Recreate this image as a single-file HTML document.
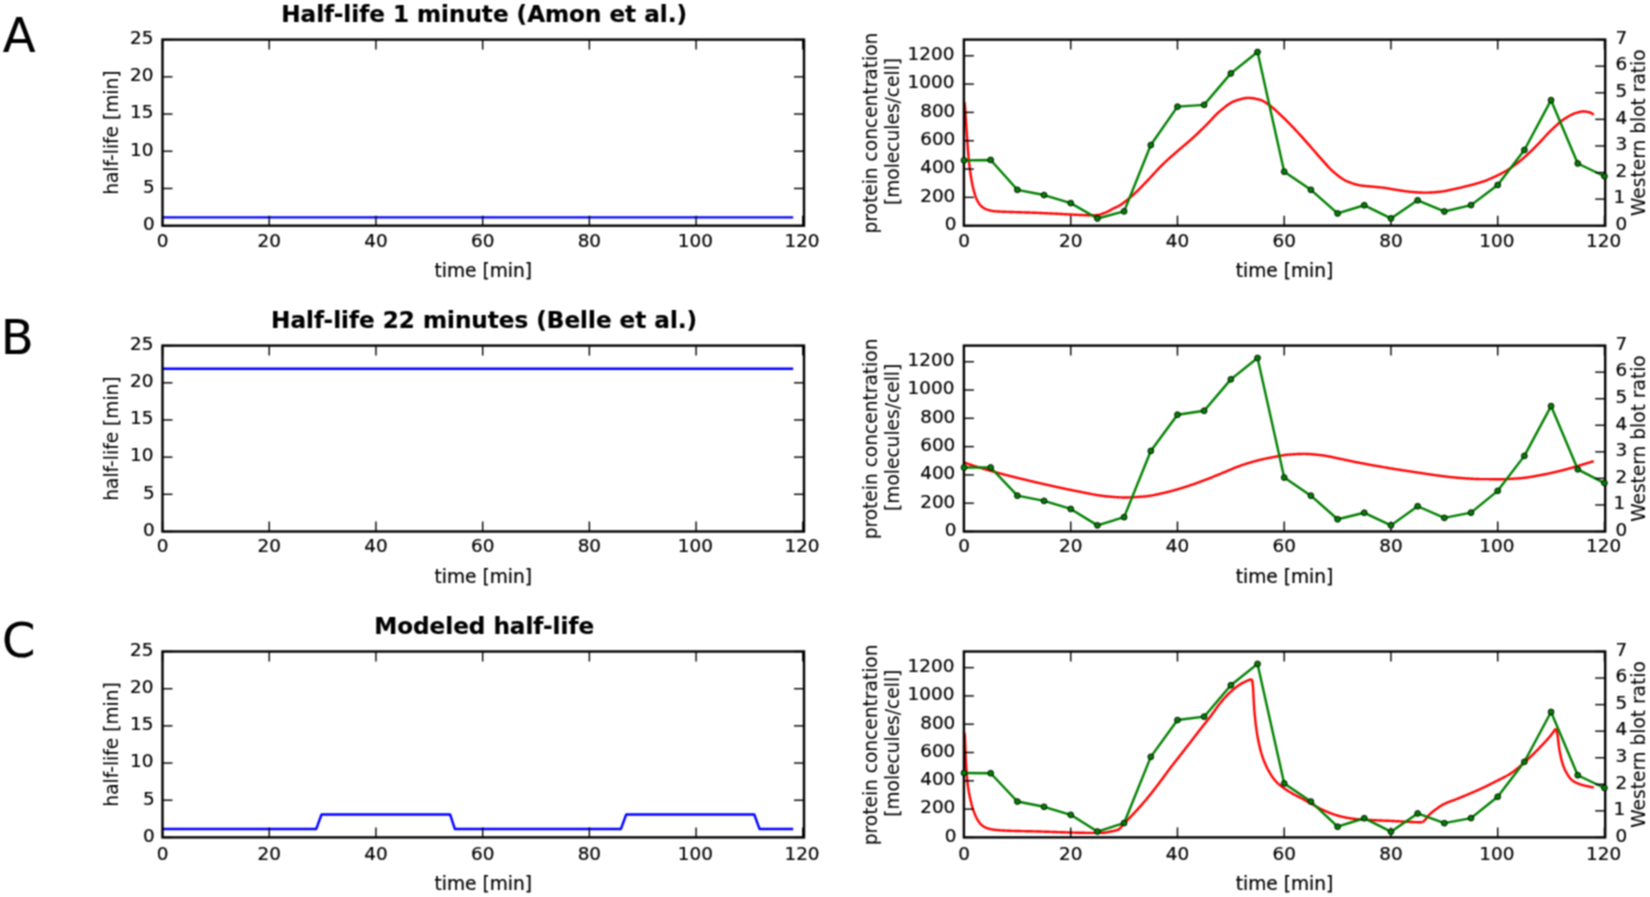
<!DOCTYPE html><html><head><meta charset="utf-8"><title>Half-life figure</title><style>html,body{margin:0;padding:0;background:#fff;}svg{display:block;} text{font-family:'DejaVu Sans', 'Liberation Sans', sans-serif;fill:#000;stroke:#000;stroke-width:0.20;} .tk{stroke:#000;stroke-width:1.40;}</style></head><body>
<svg width="1650" height="897" viewBox="0 0 1650 897">
<defs><filter id="soft" x="0" y="0" width="1650" height="897" filterUnits="userSpaceOnUse" color-interpolation-filters="sRGB"><feConvolveMatrix order="3" kernelMatrix="1 2 1 2 4 2 1 2 1" divisor="16" edgeMode="duplicate"/></filter></defs>
<rect width="100%" height="100%" fill="#fff"/>
<g filter="url(#soft)">
<text x="2.80" y="51.80" font-size="48.00" text-anchor="start" font-weight="normal">A</text>
<text x="484.15" y="22.30" font-size="23.10" text-anchor="middle" font-weight="bold">Half-life 1 minute (Amon et al.)</text>
<g>
<polyline points="162.50,217.36 793.22,217.36" fill="none" stroke="#0000ff" stroke-width="2.40" stroke-linejoin="round" stroke-linecap="butt" />
<line x1="162.50" y1="225.70" x2="162.50" y2="215.70" class="tk"/>
<line x1="162.50" y1="39.60" x2="162.50" y2="49.60" class="tk"/>
<text x="162.50" y="247.00" font-size="18.40" text-anchor="middle" font-weight="normal">0</text>
<line x1="269.22" y1="225.70" x2="269.22" y2="215.70" class="tk"/>
<line x1="269.22" y1="39.60" x2="269.22" y2="49.60" class="tk"/>
<text x="269.22" y="247.00" font-size="18.40" text-anchor="middle" font-weight="normal">20</text>
<line x1="375.94" y1="225.70" x2="375.94" y2="215.70" class="tk"/>
<line x1="375.94" y1="39.60" x2="375.94" y2="49.60" class="tk"/>
<text x="375.94" y="247.00" font-size="18.40" text-anchor="middle" font-weight="normal">40</text>
<line x1="482.66" y1="225.70" x2="482.66" y2="215.70" class="tk"/>
<line x1="482.66" y1="39.60" x2="482.66" y2="49.60" class="tk"/>
<text x="482.66" y="247.00" font-size="18.40" text-anchor="middle" font-weight="normal">60</text>
<line x1="589.38" y1="225.70" x2="589.38" y2="215.70" class="tk"/>
<line x1="589.38" y1="39.60" x2="589.38" y2="49.60" class="tk"/>
<text x="589.38" y="247.00" font-size="18.40" text-anchor="middle" font-weight="normal">80</text>
<line x1="696.10" y1="225.70" x2="696.10" y2="215.70" class="tk"/>
<line x1="696.10" y1="39.60" x2="696.10" y2="49.60" class="tk"/>
<text x="695.30" y="247.00" font-size="18.40" text-anchor="middle" font-weight="normal">100</text>
<line x1="802.82" y1="225.70" x2="802.82" y2="215.70" class="tk"/>
<line x1="802.82" y1="39.60" x2="802.82" y2="49.60" class="tk"/>
<text x="802.02" y="247.00" font-size="18.40" text-anchor="middle" font-weight="normal">120</text>
<line x1="162.50" y1="225.70" x2="172.50" y2="225.70" class="tk"/>
<line x1="804.00" y1="225.70" x2="794.00" y2="225.70" class="tk"/>
<text x="154.70" y="230.00" font-size="18.40" text-anchor="end" font-weight="normal">0</text>
<line x1="162.50" y1="188.48" x2="172.50" y2="188.48" class="tk"/>
<line x1="804.00" y1="188.48" x2="794.00" y2="188.48" class="tk"/>
<text x="154.70" y="192.78" font-size="18.40" text-anchor="end" font-weight="normal">5</text>
<line x1="162.50" y1="151.26" x2="172.50" y2="151.26" class="tk"/>
<line x1="804.00" y1="151.26" x2="794.00" y2="151.26" class="tk"/>
<text x="153.50" y="155.56" font-size="18.40" text-anchor="end" font-weight="normal">10</text>
<line x1="162.50" y1="114.04" x2="172.50" y2="114.04" class="tk"/>
<line x1="804.00" y1="114.04" x2="794.00" y2="114.04" class="tk"/>
<text x="153.50" y="118.34" font-size="18.40" text-anchor="end" font-weight="normal">15</text>
<line x1="162.50" y1="76.82" x2="172.50" y2="76.82" class="tk"/>
<line x1="804.00" y1="76.82" x2="794.00" y2="76.82" class="tk"/>
<text x="153.50" y="81.12" font-size="18.40" text-anchor="end" font-weight="normal">20</text>
<line x1="162.50" y1="39.60" x2="172.50" y2="39.60" class="tk"/>
<line x1="804.00" y1="39.60" x2="794.00" y2="39.60" class="tk"/>
<text x="153.50" y="43.90" font-size="18.40" text-anchor="end" font-weight="normal">25</text>
<rect x="162.50" y="39.60" width="641.50" height="186.10" fill="none" stroke="#000" stroke-width="2.40"/>
</g>
<text x="483.25" y="276.90" font-size="18.60" text-anchor="middle" font-weight="normal">time [min]</text>
<text x="118.10" y="132.65" font-size="18.60" text-anchor="middle" font-weight="normal" transform="rotate(-90 118.10 132.65)" style="stroke-width:0.05px">half-life [min]</text>
<defs><clipPath id="c0"><rect x="963.90" y="39.60" width="641.30" height="186.10"/></clipPath></defs>
<g clip-path="url(#c0)">
<polyline points="964.00,101.57 964.67,103.57 965.33,111.18 966.00,121.84 966.67,131.84 967.33,141.20 968.00,150.64 968.66,158.80 969.33,165.00 970.00,170.24 970.66,174.81 971.33,178.95 972.00,182.73 972.66,186.06 973.33,188.85 974.00,191.39 974.66,193.72 975.33,195.82 976.00,197.66 976.66,199.21 977.33,200.56 977.99,201.79 978.66,202.92 979.33,203.92 979.99,204.81 980.66,205.56 981.33,206.17 981.99,206.73 982.66,207.24 983.33,207.71 983.99,208.14 984.66,208.52 985.33,208.86 985.99,209.16 986.66,209.42 987.32,209.63 987.99,209.84 988.66,210.03 989.32,210.22 989.99,210.39 990.66,210.56 991.32,210.71 991.99,210.84 992.66,210.97 993.32,211.08 993.99,211.17 994.66,211.25 995.32,211.32 995.99,211.37 996.65,211.41 997.32,211.45 997.99,211.49 998.65,211.53 999.32,211.57 999.99,211.60 1000.65,211.63 1001.32,211.66 1001.99,211.69 1002.65,211.71 1003.32,211.74 1003.99,211.76 1004.65,211.78 1005.32,211.81 1005.98,211.83 1006.65,211.85 1007.32,211.87 1007.98,211.89 1008.65,211.91 1009.32,211.93 1009.98,211.95 1010.65,211.97 1011.32,211.99 1011.98,212.01 1012.65,212.03 1013.32,212.06 1013.98,212.08 1014.65,212.10 1015.31,212.13 1015.98,212.15 1016.65,212.17 1017.31,212.19 1017.98,212.21 1018.65,212.24 1019.31,212.26 1019.98,212.28 1020.65,212.30 1021.31,212.32 1021.98,212.34 1022.64,212.36 1023.31,212.38 1023.98,212.40 1024.64,212.42 1025.31,212.44 1025.98,212.46 1026.64,212.48 1027.31,212.50 1027.98,212.52 1028.64,212.54 1029.31,212.56 1029.98,212.59 1030.64,212.61 1031.31,212.63 1031.97,212.65 1032.64,212.68 1033.31,212.70 1033.97,212.73 1034.64,212.75 1035.31,212.78 1035.97,212.80 1036.64,212.83 1037.31,212.86 1037.97,212.88 1038.64,212.91 1039.31,212.94 1039.97,212.97 1040.64,213.00 1041.30,213.03 1041.97,213.06 1042.64,213.09 1043.30,213.12 1043.97,213.15 1044.64,213.18 1045.30,213.21 1045.97,213.24 1046.64,213.27 1047.30,213.30 1047.97,213.34 1048.64,213.37 1049.30,213.40 1049.97,213.43 1050.63,213.46 1051.30,213.50 1051.97,213.53 1052.63,213.56 1053.30,213.59 1053.97,213.63 1054.63,213.66 1055.30,213.69 1055.97,213.72 1056.63,213.76 1057.30,213.79 1057.97,213.82 1058.63,213.86 1059.30,213.89 1059.96,213.93 1060.63,213.96 1061.30,214.00 1061.96,214.03 1062.63,214.07 1063.30,214.11 1063.96,214.14 1064.63,214.18 1065.30,214.22 1065.96,214.26 1066.63,214.29 1067.29,214.33 1067.96,214.37 1068.63,214.40 1069.29,214.44 1069.96,214.48 1070.63,214.51 1071.29,214.55 1071.96,214.58 1072.63,214.62 1073.29,214.65 1073.96,214.68 1074.63,214.72 1075.29,214.75 1075.96,214.78 1076.62,214.81 1077.29,214.84 1077.96,214.87 1078.62,214.90 1079.29,214.93 1079.96,214.96 1080.62,214.99 1081.29,215.02 1081.96,215.05 1082.62,215.08 1083.29,215.12 1083.96,215.15 1084.62,215.17 1085.29,215.20 1085.95,215.23 1086.62,215.25 1087.29,215.27 1087.95,215.28 1088.62,215.29 1089.29,215.30 1089.95,215.30 1090.62,215.30 1091.29,215.29 1091.95,215.28 1092.62,215.26 1093.29,215.24 1093.95,215.21 1094.62,215.18 1095.28,215.15 1095.95,215.11 1096.62,215.07 1097.28,215.03 1097.95,214.97 1098.62,214.87 1099.28,214.73 1099.95,214.56 1100.62,214.37 1101.28,214.15 1101.95,213.92 1102.62,213.68 1103.28,213.43 1103.95,213.19 1104.61,212.94 1105.28,212.68 1105.95,212.40 1106.61,212.09 1107.28,211.77 1107.95,211.43 1108.61,211.08 1109.28,210.73 1109.95,210.36 1110.61,209.99 1111.28,209.63 1111.95,209.26 1112.61,208.90 1113.28,208.55 1113.94,208.21 1114.61,207.89 1115.28,207.58 1115.94,207.29 1116.61,207.00 1117.28,206.70 1117.94,206.39 1118.61,206.04 1119.28,205.67 1119.94,205.28 1120.61,204.86 1121.27,204.43 1121.94,203.98 1122.61,203.52 1123.27,203.04 1123.94,202.55 1124.61,202.04 1125.27,201.52 1125.94,200.99 1126.61,200.45 1127.27,199.91 1127.94,199.35 1128.61,198.79 1129.27,198.22 1129.94,197.65 1130.60,197.07 1131.27,196.49 1131.94,195.90 1132.60,195.32 1133.27,194.73 1133.94,194.15 1134.60,193.55 1135.27,192.94 1135.94,192.33 1136.60,191.69 1137.27,191.05 1137.94,190.40 1138.60,189.74 1139.27,189.08 1139.93,188.41 1140.60,187.73 1141.27,187.04 1141.93,186.35 1142.60,185.66 1143.27,184.97 1143.93,184.27 1144.60,183.57 1145.27,182.87 1145.93,182.18 1146.60,181.48 1147.27,180.79 1147.93,180.10 1148.60,179.41 1149.26,178.71 1149.93,178.01 1150.60,177.29 1151.26,176.58 1151.93,175.86 1152.60,175.13 1153.26,174.41 1153.93,173.68 1154.60,172.95 1155.26,172.22 1155.93,171.50 1156.60,170.78 1157.26,170.06 1157.93,169.34 1158.59,168.63 1159.26,167.93 1159.93,167.23 1160.59,166.55 1161.26,165.87 1161.93,165.20 1162.59,164.54 1163.26,163.90 1163.93,163.26 1164.59,162.63 1165.26,162.00 1165.92,161.38 1166.59,160.76 1167.26,160.15 1167.92,159.54 1168.59,158.94 1169.26,158.34 1169.92,157.75 1170.59,157.15 1171.26,156.56 1171.92,155.98 1172.59,155.39 1173.26,154.80 1173.92,154.22 1174.59,153.64 1175.25,153.05 1175.92,152.47 1176.59,151.88 1177.25,151.30 1177.92,150.72 1178.59,150.14 1179.25,149.57 1179.92,149.01 1180.59,148.44 1181.25,147.88 1181.92,147.32 1182.59,146.76 1183.25,146.20 1183.92,145.64 1184.58,145.09 1185.25,144.53 1185.92,143.97 1186.58,143.40 1187.25,142.84 1187.92,142.27 1188.58,141.69 1189.25,141.11 1189.92,140.53 1190.58,139.94 1191.25,139.34 1191.92,138.74 1192.58,138.14 1193.25,137.52 1193.91,136.91 1194.58,136.29 1195.25,135.67 1195.91,135.04 1196.58,134.41 1197.25,133.78 1197.91,133.14 1198.58,132.51 1199.25,131.87 1199.91,131.22 1200.58,130.58 1201.25,129.93 1201.91,129.28 1202.58,128.63 1203.24,127.98 1203.91,127.33 1204.58,126.68 1205.24,126.02 1205.91,125.37 1206.58,124.70 1207.24,124.02 1207.91,123.33 1208.58,122.63 1209.24,121.92 1209.91,121.21 1210.58,120.49 1211.24,119.77 1211.91,119.05 1212.57,118.33 1213.24,117.62 1213.91,116.91 1214.57,116.21 1215.24,115.52 1215.91,114.84 1216.57,114.18 1217.24,113.53 1217.91,112.90 1218.57,112.29 1219.24,111.71 1219.90,111.14 1220.57,110.60 1221.24,110.06 1221.90,109.51 1222.57,108.97 1223.24,108.43 1223.90,107.89 1224.57,107.36 1225.24,106.83 1225.90,106.31 1226.57,105.80 1227.24,105.30 1227.90,104.82 1228.57,104.35 1229.23,103.90 1229.90,103.46 1230.57,103.05 1231.23,102.65 1231.90,102.28 1232.57,101.94 1233.23,101.62 1233.90,101.32 1234.57,101.06 1235.23,100.83 1235.90,100.61 1236.57,100.39 1237.23,100.17 1237.90,99.96 1238.56,99.75 1239.23,99.54 1239.90,99.34 1240.56,99.15 1241.23,98.97 1241.90,98.80 1242.56,98.64 1243.23,98.49 1243.90,98.36 1244.56,98.24 1245.23,98.13 1245.90,98.05 1246.56,97.98 1247.23,97.93 1247.89,97.90 1248.56,97.89 1249.23,97.90 1249.89,97.93 1250.56,97.98 1251.23,98.04 1251.89,98.11 1252.56,98.20 1253.23,98.30 1253.89,98.41 1254.56,98.53 1255.23,98.67 1255.89,98.81 1256.56,98.96 1257.22,99.11 1257.89,99.28 1258.56,99.44 1259.22,99.62 1259.89,99.79 1260.56,99.98 1261.22,100.20 1261.89,100.47 1262.56,100.78 1263.22,101.12 1263.89,101.49 1264.55,101.89 1265.22,102.31 1265.89,102.75 1266.55,103.20 1267.22,103.66 1267.89,104.13 1268.55,104.60 1269.22,105.07 1269.89,105.54 1270.55,106.02 1271.22,106.53 1271.89,107.06 1272.55,107.61 1273.22,108.18 1273.88,108.75 1274.55,109.35 1275.22,109.95 1275.88,110.56 1276.55,111.17 1277.22,111.80 1277.88,112.42 1278.55,113.05 1279.22,113.67 1279.88,114.29 1280.55,114.91 1281.22,115.54 1281.88,116.16 1282.55,116.80 1283.21,117.44 1283.88,118.08 1284.55,118.73 1285.21,119.38 1285.88,120.04 1286.55,120.70 1287.21,121.36 1287.88,122.03 1288.55,122.70 1289.21,123.38 1289.88,124.06 1290.55,124.74 1291.21,125.43 1291.88,126.11 1292.54,126.81 1293.21,127.50 1293.88,128.19 1294.54,128.90 1295.21,129.60 1295.88,130.31 1296.54,131.03 1297.21,131.75 1297.88,132.48 1298.54,133.20 1299.21,133.94 1299.88,134.67 1300.54,135.41 1301.21,136.15 1301.87,136.89 1302.54,137.64 1303.21,138.38 1303.87,139.13 1304.54,139.88 1305.21,140.63 1305.87,141.37 1306.54,142.12 1307.21,142.87 1307.87,143.62 1308.54,144.37 1309.21,145.13 1309.87,145.90 1310.54,146.66 1311.20,147.43 1311.87,148.20 1312.54,148.97 1313.20,149.74 1313.87,150.51 1314.54,151.28 1315.20,152.05 1315.87,152.82 1316.54,153.59 1317.20,154.35 1317.87,155.10 1318.53,155.86 1319.20,156.61 1319.87,157.35 1320.53,158.09 1321.20,158.83 1321.87,159.58 1322.53,160.33 1323.20,161.09 1323.87,161.85 1324.53,162.62 1325.20,163.38 1325.87,164.14 1326.53,164.89 1327.20,165.63 1327.86,166.37 1328.53,167.09 1329.20,167.80 1329.86,168.50 1330.53,169.18 1331.20,169.84 1331.86,170.48 1332.53,171.09 1333.20,171.68 1333.86,172.25 1334.53,172.80 1335.20,173.35 1335.86,173.90 1336.53,174.44 1337.19,174.97 1337.86,175.50 1338.53,176.01 1339.19,176.52 1339.86,177.01 1340.53,177.49 1341.19,177.96 1341.86,178.41 1342.53,178.85 1343.19,179.27 1343.86,179.67 1344.53,180.05 1345.19,180.41 1345.86,180.75 1346.52,181.06 1347.19,181.35 1347.86,181.63 1348.52,181.91 1349.19,182.17 1349.86,182.43 1350.52,182.69 1351.19,182.94 1351.86,183.17 1352.52,183.41 1353.19,183.63 1353.86,183.84 1354.52,184.05 1355.19,184.24 1355.85,184.43 1356.52,184.61 1357.19,184.77 1357.85,184.92 1358.52,185.07 1359.19,185.20 1359.85,185.32 1360.52,185.42 1361.19,185.52 1361.85,185.61 1362.52,185.69 1363.19,185.77 1363.85,185.84 1364.52,185.90 1365.18,185.97 1365.85,186.03 1366.52,186.09 1367.18,186.15 1367.85,186.21 1368.52,186.27 1369.18,186.33 1369.85,186.40 1370.52,186.46 1371.18,186.53 1371.85,186.60 1372.51,186.66 1373.18,186.72 1373.85,186.79 1374.51,186.85 1375.18,186.91 1375.85,186.97 1376.51,187.03 1377.18,187.10 1377.85,187.16 1378.51,187.22 1379.18,187.29 1379.85,187.36 1380.51,187.43 1381.18,187.50 1381.84,187.57 1382.51,187.65 1383.18,187.72 1383.84,187.80 1384.51,187.89 1385.18,187.98 1385.84,188.07 1386.51,188.17 1387.18,188.28 1387.84,188.39 1388.51,188.50 1389.18,188.61 1389.84,188.73 1390.51,188.84 1391.17,188.96 1391.84,189.08 1392.51,189.20 1393.17,189.32 1393.84,189.43 1394.51,189.55 1395.17,189.66 1395.84,189.77 1396.51,189.88 1397.17,189.98 1397.84,190.08 1398.51,190.18 1399.17,190.28 1399.84,190.38 1400.50,190.49 1401.17,190.59 1401.84,190.69 1402.50,190.79 1403.17,190.89 1403.84,190.99 1404.50,191.09 1405.17,191.19 1405.84,191.28 1406.50,191.37 1407.17,191.46 1407.84,191.54 1408.50,191.62 1409.17,191.69 1409.83,191.76 1410.50,191.83 1411.17,191.89 1411.83,191.94 1412.50,191.99 1413.17,192.04 1413.83,192.09 1414.50,192.13 1415.17,192.18 1415.83,192.23 1416.50,192.28 1417.16,192.32 1417.83,192.36 1418.50,192.40 1419.16,192.44 1419.83,192.48 1420.50,192.51 1421.16,192.54 1421.83,192.57 1422.50,192.59 1423.16,192.61 1423.83,192.62 1424.50,192.63 1425.16,192.64 1425.83,192.64 1426.49,192.64 1427.16,192.63 1427.83,192.61 1428.49,192.59 1429.16,192.57 1429.83,192.54 1430.49,192.50 1431.16,192.47 1431.83,192.43 1432.49,192.38 1433.16,192.34 1433.83,192.29 1434.49,192.23 1435.16,192.18 1435.82,192.12 1436.49,192.07 1437.16,192.01 1437.82,191.95 1438.49,191.89 1439.16,191.83 1439.82,191.76 1440.49,191.69 1441.16,191.61 1441.82,191.52 1442.49,191.43 1443.16,191.32 1443.82,191.21 1444.49,191.09 1445.15,190.97 1445.82,190.84 1446.49,190.71 1447.15,190.58 1447.82,190.44 1448.49,190.30 1449.15,190.15 1449.82,190.01 1450.49,189.86 1451.15,189.72 1451.82,189.58 1452.49,189.43 1453.15,189.30 1453.82,189.16 1454.48,189.02 1455.15,188.87 1455.82,188.73 1456.48,188.58 1457.15,188.43 1457.82,188.28 1458.48,188.13 1459.15,187.97 1459.82,187.82 1460.48,187.66 1461.15,187.50 1461.82,187.34 1462.48,187.18 1463.15,187.01 1463.81,186.85 1464.48,186.68 1465.15,186.52 1465.81,186.35 1466.48,186.18 1467.15,186.01 1467.81,185.84 1468.48,185.67 1469.15,185.51 1469.81,185.34 1470.48,185.17 1471.14,185.00 1471.81,184.83 1472.48,184.66 1473.14,184.49 1473.81,184.31 1474.48,184.13 1475.14,183.96 1475.81,183.78 1476.48,183.59 1477.14,183.40 1477.81,183.21 1478.48,183.02 1479.14,182.82 1479.81,182.62 1480.47,182.41 1481.14,182.20 1481.81,181.98 1482.47,181.76 1483.14,181.53 1483.81,181.29 1484.47,181.05 1485.14,180.80 1485.81,180.55 1486.47,180.29 1487.14,180.03 1487.81,179.76 1488.47,179.49 1489.14,179.21 1489.80,178.93 1490.47,178.64 1491.14,178.36 1491.80,178.06 1492.47,177.77 1493.14,177.47 1493.80,177.17 1494.47,176.86 1495.14,176.55 1495.80,176.24 1496.47,175.93 1497.14,175.61 1497.80,175.29 1498.47,174.97 1499.13,174.64 1499.80,174.30 1500.47,173.96 1501.13,173.62 1501.80,173.27 1502.47,172.91 1503.13,172.55 1503.80,172.19 1504.47,171.82 1505.13,171.44 1505.80,171.06 1506.47,170.67 1507.13,170.27 1507.80,169.87 1508.46,169.46 1509.13,169.04 1509.80,168.62 1510.46,168.19 1511.13,167.74 1511.80,167.29 1512.46,166.82 1513.13,166.35 1513.80,165.86 1514.46,165.37 1515.13,164.87 1515.79,164.36 1516.46,163.84 1517.13,163.32 1517.79,162.79 1518.46,162.26 1519.13,161.72 1519.79,161.17 1520.46,160.62 1521.13,160.07 1521.79,159.51 1522.46,158.95 1523.13,158.39 1523.79,157.82 1524.46,157.25 1525.12,156.66 1525.79,156.07 1526.46,155.47 1527.12,154.86 1527.79,154.24 1528.46,153.62 1529.12,152.99 1529.79,152.36 1530.46,151.72 1531.12,151.07 1531.79,150.42 1532.46,149.77 1533.12,149.11 1533.79,148.45 1534.45,147.79 1535.12,147.13 1535.79,146.46 1536.45,145.80 1537.12,145.13 1537.79,144.45 1538.45,143.77 1539.12,143.07 1539.79,142.36 1540.45,141.64 1541.12,140.91 1541.79,140.18 1542.45,139.45 1543.12,138.71 1543.78,137.97 1544.45,137.23 1545.12,136.50 1545.78,135.77 1546.45,135.05 1547.12,134.33 1547.78,133.62 1548.45,132.93 1549.12,132.24 1549.78,131.57 1550.45,130.92 1551.12,130.28 1551.78,129.65 1552.45,129.02 1553.11,128.40 1553.78,127.77 1554.45,127.14 1555.11,126.52 1555.78,125.91 1556.45,125.30 1557.11,124.70 1557.78,124.10 1558.45,123.52 1559.11,122.95 1559.78,122.39 1560.45,121.84 1561.11,121.30 1561.78,120.79 1562.44,120.29 1563.11,119.80 1563.78,119.34 1564.44,118.89 1565.11,118.47 1565.78,118.05 1566.44,117.64 1567.11,117.23 1567.78,116.83 1568.44,116.43 1569.11,116.05 1569.77,115.67 1570.44,115.31 1571.11,114.96 1571.77,114.63 1572.44,114.31 1573.11,114.01 1573.77,113.73 1574.44,113.47 1575.11,113.23 1575.77,113.02 1576.44,112.82 1577.11,112.63 1577.77,112.44 1578.44,112.26 1579.10,112.08 1579.77,111.92 1580.44,111.78 1581.10,111.66 1581.77,111.57 1582.44,111.51 1583.10,111.49 1583.77,111.50 1584.44,111.54 1585.10,111.59 1585.77,111.66 1586.44,111.75 1587.10,111.85 1587.77,111.97 1588.43,112.09 1589.10,112.23 1589.77,112.42 1590.43,112.69 1591.10,113.02 1591.77,113.40 1592.43,113.82 1593.10,114.28 1593.77,114.75" fill="none" stroke="#ff0000" stroke-width="2.40" stroke-linejoin="round" stroke-linecap="butt" />
<polyline points="964.00,160.35 990.68,159.93 1017.37,189.81 1044.06,195.05 1070.74,203.12 1097.42,218.48 1124.11,211.34 1150.80,145.05 1177.48,106.67 1204.16,104.83 1230.85,73.39 1257.54,52.00 1284.22,171.68 1310.90,189.81 1337.59,213.46 1364.28,205.25 1390.96,218.42 1417.64,200.29 1444.33,211.48 1471.02,205.11 1497.70,184.99 1524.39,150.01 1551.07,100.16 1577.76,163.47 1604.44,176.21" fill="none" stroke="#008000" stroke-width="2.40" stroke-linejoin="round" stroke-linecap="butt" />
</g>
<line x1="964.00" y1="225.70" x2="964.00" y2="215.70" class="tk"/>
<line x1="964.00" y1="39.60" x2="964.00" y2="49.60" class="tk"/>
<text x="964.00" y="247.00" font-size="18.40" text-anchor="middle" font-weight="normal">0</text>
<line x1="1070.74" y1="225.70" x2="1070.74" y2="215.70" class="tk"/>
<line x1="1070.74" y1="39.60" x2="1070.74" y2="49.60" class="tk"/>
<text x="1070.74" y="247.00" font-size="18.40" text-anchor="middle" font-weight="normal">20</text>
<line x1="1177.48" y1="225.70" x2="1177.48" y2="215.70" class="tk"/>
<line x1="1177.48" y1="39.60" x2="1177.48" y2="49.60" class="tk"/>
<text x="1177.48" y="247.00" font-size="18.40" text-anchor="middle" font-weight="normal">40</text>
<line x1="1284.22" y1="225.70" x2="1284.22" y2="215.70" class="tk"/>
<line x1="1284.22" y1="39.60" x2="1284.22" y2="49.60" class="tk"/>
<text x="1284.22" y="247.00" font-size="18.40" text-anchor="middle" font-weight="normal">60</text>
<line x1="1390.96" y1="225.70" x2="1390.96" y2="215.70" class="tk"/>
<line x1="1390.96" y1="39.60" x2="1390.96" y2="49.60" class="tk"/>
<text x="1390.96" y="247.00" font-size="18.40" text-anchor="middle" font-weight="normal">80</text>
<line x1="1497.70" y1="225.70" x2="1497.70" y2="215.70" class="tk"/>
<line x1="1497.70" y1="39.60" x2="1497.70" y2="49.60" class="tk"/>
<text x="1496.90" y="247.00" font-size="18.40" text-anchor="middle" font-weight="normal">100</text>
<line x1="1604.44" y1="225.70" x2="1604.44" y2="215.70" class="tk"/>
<line x1="1604.44" y1="39.60" x2="1604.44" y2="49.60" class="tk"/>
<text x="1603.64" y="247.00" font-size="18.40" text-anchor="middle" font-weight="normal">120</text>
<line x1="963.90" y1="225.70" x2="973.90" y2="225.70" class="tk"/>
<text x="956.40" y="230.00" font-size="18.40" text-anchor="end" font-weight="normal">0</text>
<line x1="963.90" y1="197.37" x2="973.90" y2="197.37" class="tk"/>
<text x="955.30" y="201.67" font-size="18.40" text-anchor="end" font-weight="normal">200</text>
<line x1="963.90" y1="169.05" x2="973.90" y2="169.05" class="tk"/>
<text x="955.30" y="173.35" font-size="18.40" text-anchor="end" font-weight="normal">400</text>
<line x1="963.90" y1="140.72" x2="973.90" y2="140.72" class="tk"/>
<text x="955.30" y="145.02" font-size="18.40" text-anchor="end" font-weight="normal">600</text>
<line x1="963.90" y1="112.40" x2="973.90" y2="112.40" class="tk"/>
<text x="955.30" y="116.70" font-size="18.40" text-anchor="end" font-weight="normal">800</text>
<line x1="963.90" y1="84.07" x2="973.90" y2="84.07" class="tk"/>
<text x="954.40" y="88.37" font-size="18.40" text-anchor="end" font-weight="normal">1000</text>
<line x1="963.90" y1="55.75" x2="973.90" y2="55.75" class="tk"/>
<text x="954.40" y="60.05" font-size="18.40" text-anchor="end" font-weight="normal">1200</text>
<line x1="1605.20" y1="225.70" x2="1595.20" y2="225.70" class="tk"/>
<text x="1615.50" y="230.00" font-size="18.40" text-anchor="start" font-weight="normal">0</text>
<line x1="1605.20" y1="199.11" x2="1595.20" y2="199.11" class="tk"/>
<text x="1613.50" y="203.41" font-size="18.40" text-anchor="start" font-weight="normal">1</text>
<line x1="1605.20" y1="172.53" x2="1595.20" y2="172.53" class="tk"/>
<text x="1615.50" y="176.83" font-size="18.40" text-anchor="start" font-weight="normal">2</text>
<line x1="1605.20" y1="145.94" x2="1595.20" y2="145.94" class="tk"/>
<text x="1615.50" y="150.24" font-size="18.40" text-anchor="start" font-weight="normal">3</text>
<line x1="1605.20" y1="119.36" x2="1595.20" y2="119.36" class="tk"/>
<text x="1615.50" y="123.66" font-size="18.40" text-anchor="start" font-weight="normal">4</text>
<line x1="1605.20" y1="92.77" x2="1595.20" y2="92.77" class="tk"/>
<text x="1615.50" y="97.07" font-size="18.40" text-anchor="start" font-weight="normal">5</text>
<line x1="1605.20" y1="66.19" x2="1595.20" y2="66.19" class="tk"/>
<text x="1615.50" y="70.49" font-size="18.40" text-anchor="start" font-weight="normal">6</text>
<line x1="1605.20" y1="39.60" x2="1595.20" y2="39.60" class="tk"/>
<text x="1615.50" y="43.90" font-size="18.40" text-anchor="start" font-weight="normal">7</text>
<rect x="963.90" y="39.60" width="641.30" height="186.10" fill="none" stroke="#000" stroke-width="2.40"/>
<circle cx="964.00" cy="160.35" r="2.9" fill="#008000" stroke="#000" stroke-width="0.9"/>
<circle cx="990.68" cy="159.93" r="2.9" fill="#008000" stroke="#000" stroke-width="0.9"/>
<circle cx="1017.37" cy="189.81" r="2.9" fill="#008000" stroke="#000" stroke-width="0.9"/>
<circle cx="1044.06" cy="195.05" r="2.9" fill="#008000" stroke="#000" stroke-width="0.9"/>
<circle cx="1070.74" cy="203.12" r="2.9" fill="#008000" stroke="#000" stroke-width="0.9"/>
<circle cx="1097.42" cy="218.48" r="2.9" fill="#008000" stroke="#000" stroke-width="0.9"/>
<circle cx="1124.11" cy="211.34" r="2.9" fill="#008000" stroke="#000" stroke-width="0.9"/>
<circle cx="1150.80" cy="145.05" r="2.9" fill="#008000" stroke="#000" stroke-width="0.9"/>
<circle cx="1177.48" cy="106.67" r="2.9" fill="#008000" stroke="#000" stroke-width="0.9"/>
<circle cx="1204.16" cy="104.83" r="2.9" fill="#008000" stroke="#000" stroke-width="0.9"/>
<circle cx="1230.85" cy="73.39" r="2.9" fill="#008000" stroke="#000" stroke-width="0.9"/>
<circle cx="1257.54" cy="52.00" r="2.9" fill="#008000" stroke="#000" stroke-width="0.9"/>
<circle cx="1284.22" cy="171.68" r="2.9" fill="#008000" stroke="#000" stroke-width="0.9"/>
<circle cx="1310.90" cy="189.81" r="2.9" fill="#008000" stroke="#000" stroke-width="0.9"/>
<circle cx="1337.59" cy="213.46" r="2.9" fill="#008000" stroke="#000" stroke-width="0.9"/>
<circle cx="1364.28" cy="205.25" r="2.9" fill="#008000" stroke="#000" stroke-width="0.9"/>
<circle cx="1390.96" cy="218.42" r="2.9" fill="#008000" stroke="#000" stroke-width="0.9"/>
<circle cx="1417.64" cy="200.29" r="2.9" fill="#008000" stroke="#000" stroke-width="0.9"/>
<circle cx="1444.33" cy="211.48" r="2.9" fill="#008000" stroke="#000" stroke-width="0.9"/>
<circle cx="1471.02" cy="205.11" r="2.9" fill="#008000" stroke="#000" stroke-width="0.9"/>
<circle cx="1497.70" cy="184.99" r="2.9" fill="#008000" stroke="#000" stroke-width="0.9"/>
<circle cx="1524.39" cy="150.01" r="2.9" fill="#008000" stroke="#000" stroke-width="0.9"/>
<circle cx="1551.07" cy="100.16" r="2.9" fill="#008000" stroke="#000" stroke-width="0.9"/>
<circle cx="1577.76" cy="163.47" r="2.9" fill="#008000" stroke="#000" stroke-width="0.9"/>
<circle cx="1604.44" cy="176.21" r="2.9" fill="#008000" stroke="#000" stroke-width="0.9"/>
<text x="1284.55" y="276.90" font-size="18.60" text-anchor="middle" font-weight="normal">time [min]</text>
<text x="877.50" y="133.05" font-size="18.60" text-anchor="middle" font-weight="normal" transform="rotate(-90 877.50 133.05)" style="stroke-width:0.05px">protein concentration</text>
<text x="898.80" y="131.45" font-size="18.60" text-anchor="middle" font-weight="normal" transform="rotate(-90 898.80 131.45)" style="stroke-width:0.05px">[molecules/cell]</text>
<text x="1645.50" y="132.65" font-size="18.60" text-anchor="middle" font-weight="normal" transform="rotate(-90 1645.50 132.65)" style="stroke-width:0.05px">Western blot ratio</text>
<text x="0.80" y="354.40" font-size="48.00" text-anchor="start" font-weight="normal">B</text>
<text x="484.15" y="327.70" font-size="23.10" text-anchor="middle" font-weight="bold">Half-life 22 minutes (Belle et al.)</text>
<g>
<polyline points="162.50,368.80 793.22,368.80" fill="none" stroke="#0000ff" stroke-width="2.40" stroke-linejoin="round" stroke-linecap="butt" />
<line x1="162.50" y1="531.50" x2="162.50" y2="521.50" class="tk"/>
<line x1="162.50" y1="345.60" x2="162.50" y2="355.60" class="tk"/>
<text x="162.50" y="552.20" font-size="18.40" text-anchor="middle" font-weight="normal">0</text>
<line x1="269.22" y1="531.50" x2="269.22" y2="521.50" class="tk"/>
<line x1="269.22" y1="345.60" x2="269.22" y2="355.60" class="tk"/>
<text x="269.22" y="552.20" font-size="18.40" text-anchor="middle" font-weight="normal">20</text>
<line x1="375.94" y1="531.50" x2="375.94" y2="521.50" class="tk"/>
<line x1="375.94" y1="345.60" x2="375.94" y2="355.60" class="tk"/>
<text x="375.94" y="552.20" font-size="18.40" text-anchor="middle" font-weight="normal">40</text>
<line x1="482.66" y1="531.50" x2="482.66" y2="521.50" class="tk"/>
<line x1="482.66" y1="345.60" x2="482.66" y2="355.60" class="tk"/>
<text x="482.66" y="552.20" font-size="18.40" text-anchor="middle" font-weight="normal">60</text>
<line x1="589.38" y1="531.50" x2="589.38" y2="521.50" class="tk"/>
<line x1="589.38" y1="345.60" x2="589.38" y2="355.60" class="tk"/>
<text x="589.38" y="552.20" font-size="18.40" text-anchor="middle" font-weight="normal">80</text>
<line x1="696.10" y1="531.50" x2="696.10" y2="521.50" class="tk"/>
<line x1="696.10" y1="345.60" x2="696.10" y2="355.60" class="tk"/>
<text x="695.30" y="552.20" font-size="18.40" text-anchor="middle" font-weight="normal">100</text>
<line x1="802.82" y1="531.50" x2="802.82" y2="521.50" class="tk"/>
<line x1="802.82" y1="345.60" x2="802.82" y2="355.60" class="tk"/>
<text x="802.02" y="552.20" font-size="18.40" text-anchor="middle" font-weight="normal">120</text>
<line x1="162.50" y1="531.50" x2="172.50" y2="531.50" class="tk"/>
<line x1="804.00" y1="531.50" x2="794.00" y2="531.50" class="tk"/>
<text x="154.70" y="535.80" font-size="18.40" text-anchor="end" font-weight="normal">0</text>
<line x1="162.50" y1="494.32" x2="172.50" y2="494.32" class="tk"/>
<line x1="804.00" y1="494.32" x2="794.00" y2="494.32" class="tk"/>
<text x="154.70" y="498.62" font-size="18.40" text-anchor="end" font-weight="normal">5</text>
<line x1="162.50" y1="457.14" x2="172.50" y2="457.14" class="tk"/>
<line x1="804.00" y1="457.14" x2="794.00" y2="457.14" class="tk"/>
<text x="153.50" y="461.44" font-size="18.40" text-anchor="end" font-weight="normal">10</text>
<line x1="162.50" y1="419.96" x2="172.50" y2="419.96" class="tk"/>
<line x1="804.00" y1="419.96" x2="794.00" y2="419.96" class="tk"/>
<text x="153.50" y="424.26" font-size="18.40" text-anchor="end" font-weight="normal">15</text>
<line x1="162.50" y1="382.78" x2="172.50" y2="382.78" class="tk"/>
<line x1="804.00" y1="382.78" x2="794.00" y2="382.78" class="tk"/>
<text x="153.50" y="387.08" font-size="18.40" text-anchor="end" font-weight="normal">20</text>
<line x1="162.50" y1="345.60" x2="172.50" y2="345.60" class="tk"/>
<line x1="804.00" y1="345.60" x2="794.00" y2="345.60" class="tk"/>
<text x="153.50" y="349.90" font-size="18.40" text-anchor="end" font-weight="normal">25</text>
<rect x="162.50" y="345.60" width="641.50" height="185.90" fill="none" stroke="#000" stroke-width="2.40"/>
</g>
<text x="483.25" y="583.00" font-size="18.60" text-anchor="middle" font-weight="normal">time [min]</text>
<text x="118.10" y="438.55" font-size="18.60" text-anchor="middle" font-weight="normal" transform="rotate(-90 118.10 438.55)" style="stroke-width:0.05px">half-life [min]</text>
<defs><clipPath id="c1"><rect x="963.90" y="345.60" width="641.30" height="185.90"/></clipPath></defs>
<g clip-path="url(#c1)">
<polyline points="964.00,462.53 964.67,462.75 965.33,462.98 966.00,463.21 966.67,463.43 967.33,463.65 968.00,463.88 968.66,464.10 969.33,464.32 970.00,464.54 970.66,464.76 971.33,464.98 972.00,465.20 972.66,465.42 973.33,465.63 974.00,465.85 974.66,466.06 975.33,466.28 976.00,466.49 976.66,466.70 977.33,466.91 977.99,467.12 978.66,467.33 979.33,467.54 979.99,467.74 980.66,467.95 981.33,468.15 981.99,468.35 982.66,468.56 983.33,468.76 983.99,468.96 984.66,469.16 985.33,469.36 985.99,469.55 986.66,469.75 987.32,469.94 987.99,470.13 988.66,470.33 989.32,470.52 989.99,470.71 990.66,470.90 991.32,471.08 991.99,471.27 992.66,471.45 993.32,471.64 993.99,471.82 994.66,472.00 995.32,472.19 995.99,472.37 996.65,472.55 997.32,472.72 997.99,472.90 998.65,473.08 999.32,473.26 999.99,473.43 1000.65,473.61 1001.32,473.78 1001.99,473.95 1002.65,474.13 1003.32,474.30 1003.99,474.47 1004.65,474.64 1005.32,474.81 1005.98,474.98 1006.65,475.15 1007.32,475.32 1007.98,475.49 1008.65,475.65 1009.32,475.82 1009.98,475.99 1010.65,476.16 1011.32,476.32 1011.98,476.49 1012.65,476.65 1013.32,476.82 1013.98,476.99 1014.65,477.15 1015.31,477.32 1015.98,477.48 1016.65,477.65 1017.31,477.81 1017.98,477.98 1018.65,478.14 1019.31,478.30 1019.98,478.47 1020.65,478.63 1021.31,478.80 1021.98,478.96 1022.64,479.12 1023.31,479.28 1023.98,479.45 1024.64,479.61 1025.31,479.77 1025.98,479.93 1026.64,480.09 1027.31,480.25 1027.98,480.41 1028.64,480.57 1029.31,480.73 1029.98,480.89 1030.64,481.05 1031.31,481.21 1031.97,481.36 1032.64,481.52 1033.31,481.68 1033.97,481.84 1034.64,481.99 1035.31,482.15 1035.97,482.30 1036.64,482.46 1037.31,482.61 1037.97,482.77 1038.64,482.92 1039.31,483.08 1039.97,483.23 1040.64,483.38 1041.30,483.53 1041.97,483.69 1042.64,483.84 1043.30,483.99 1043.97,484.14 1044.64,484.29 1045.30,484.44 1045.97,484.59 1046.64,484.74 1047.30,484.89 1047.97,485.04 1048.64,485.19 1049.30,485.34 1049.97,485.48 1050.63,485.63 1051.30,485.78 1051.97,485.93 1052.63,486.08 1053.30,486.22 1053.97,486.37 1054.63,486.52 1055.30,486.66 1055.97,486.81 1056.63,486.96 1057.30,487.10 1057.97,487.25 1058.63,487.39 1059.30,487.54 1059.96,487.68 1060.63,487.82 1061.30,487.97 1061.96,488.11 1062.63,488.25 1063.30,488.39 1063.96,488.54 1064.63,488.68 1065.30,488.82 1065.96,488.96 1066.63,489.10 1067.29,489.24 1067.96,489.37 1068.63,489.51 1069.29,489.65 1069.96,489.78 1070.63,489.92 1071.29,490.05 1071.96,490.19 1072.63,490.32 1073.29,490.46 1073.96,490.59 1074.63,490.72 1075.29,490.85 1075.96,490.98 1076.62,491.11 1077.29,491.24 1077.96,491.37 1078.62,491.50 1079.29,491.63 1079.96,491.77 1080.62,491.90 1081.29,492.04 1081.96,492.17 1082.62,492.31 1083.29,492.45 1083.96,492.58 1084.62,492.72 1085.29,492.86 1085.95,492.99 1086.62,493.13 1087.29,493.27 1087.95,493.40 1088.62,493.54 1089.29,493.67 1089.95,493.80 1090.62,493.93 1091.29,494.06 1091.95,494.19 1092.62,494.31 1093.29,494.44 1093.95,494.56 1094.62,494.68 1095.28,494.80 1095.95,494.91 1096.62,495.02 1097.28,495.13 1097.95,495.24 1098.62,495.34 1099.28,495.44 1099.95,495.54 1100.62,495.64 1101.28,495.73 1101.95,495.81 1102.62,495.89 1103.28,495.97 1103.95,496.05 1104.61,496.12 1105.28,496.18 1105.95,496.25 1106.61,496.31 1107.28,496.37 1107.95,496.44 1108.61,496.50 1109.28,496.56 1109.95,496.62 1110.61,496.68 1111.28,496.74 1111.95,496.80 1112.61,496.86 1113.28,496.92 1113.94,496.97 1114.61,497.03 1115.28,497.08 1115.94,497.13 1116.61,497.17 1117.28,497.22 1117.94,497.26 1118.61,497.29 1119.28,497.33 1119.94,497.36 1120.61,497.39 1121.27,497.41 1121.94,497.43 1122.61,497.45 1123.27,497.46 1123.94,497.47 1124.61,497.47 1125.27,497.47 1125.94,497.47 1126.61,497.46 1127.27,497.45 1127.94,497.43 1128.61,497.42 1129.27,497.40 1129.94,497.38 1130.60,497.35 1131.27,497.33 1131.94,497.30 1132.60,497.27 1133.27,497.24 1133.94,497.20 1134.60,497.17 1135.27,497.13 1135.94,497.09 1136.60,497.05 1137.27,497.00 1137.94,496.96 1138.60,496.91 1139.27,496.87 1139.93,496.82 1140.60,496.77 1141.27,496.72 1141.93,496.67 1142.60,496.62 1143.27,496.57 1143.93,496.52 1144.60,496.46 1145.27,496.40 1145.93,496.34 1146.60,496.26 1147.27,496.18 1147.93,496.10 1148.60,496.00 1149.26,495.90 1149.93,495.80 1150.60,495.69 1151.26,495.57 1151.93,495.45 1152.60,495.32 1153.26,495.20 1153.93,495.06 1154.60,494.93 1155.26,494.79 1155.93,494.65 1156.60,494.51 1157.26,494.36 1157.93,494.21 1158.59,494.06 1159.26,493.92 1159.93,493.77 1160.59,493.62 1161.26,493.47 1161.93,493.32 1162.59,493.17 1163.26,493.02 1163.93,492.87 1164.59,492.72 1165.26,492.57 1165.92,492.41 1166.59,492.25 1167.26,492.09 1167.92,491.93 1168.59,491.76 1169.26,491.59 1169.92,491.42 1170.59,491.24 1171.26,491.06 1171.92,490.88 1172.59,490.70 1173.26,490.52 1173.92,490.33 1174.59,490.14 1175.25,489.95 1175.92,489.76 1176.59,489.57 1177.25,489.37 1177.92,489.18 1178.59,488.98 1179.25,488.78 1179.92,488.58 1180.59,488.38 1181.25,488.18 1181.92,487.98 1182.59,487.78 1183.25,487.58 1183.92,487.37 1184.58,487.16 1185.25,486.95 1185.92,486.74 1186.58,486.53 1187.25,486.31 1187.92,486.09 1188.58,485.87 1189.25,485.65 1189.92,485.43 1190.58,485.20 1191.25,484.97 1191.92,484.74 1192.58,484.51 1193.25,484.28 1193.91,484.05 1194.58,483.81 1195.25,483.58 1195.91,483.34 1196.58,483.10 1197.25,482.86 1197.91,482.62 1198.58,482.38 1199.25,482.14 1199.91,481.89 1200.58,481.65 1201.25,481.40 1201.91,481.16 1202.58,480.91 1203.24,480.67 1203.91,480.42 1204.58,480.16 1205.24,479.91 1205.91,479.65 1206.58,479.40 1207.24,479.14 1207.91,478.88 1208.58,478.61 1209.24,478.35 1209.91,478.08 1210.58,477.82 1211.24,477.55 1211.91,477.28 1212.57,477.01 1213.24,476.74 1213.91,476.47 1214.57,476.20 1215.24,475.93 1215.91,475.66 1216.57,475.39 1217.24,475.12 1217.91,474.84 1218.57,474.57 1219.24,474.30 1219.90,474.03 1220.57,473.76 1221.24,473.50 1221.90,473.23 1222.57,472.96 1223.24,472.69 1223.90,472.41 1224.57,472.13 1225.24,471.85 1225.90,471.57 1226.57,471.29 1227.24,471.01 1227.90,470.72 1228.57,470.44 1229.23,470.15 1229.90,469.87 1230.57,469.59 1231.23,469.31 1231.90,469.03 1232.57,468.75 1233.23,468.47 1233.90,468.19 1234.57,467.92 1235.23,467.65 1235.90,467.39 1236.57,467.12 1237.23,466.87 1237.90,466.61 1238.56,466.36 1239.23,466.12 1239.90,465.88 1240.56,465.64 1241.23,465.42 1241.90,465.19 1242.56,464.97 1243.23,464.74 1243.90,464.52 1244.56,464.31 1245.23,464.09 1245.90,463.87 1246.56,463.66 1247.23,463.45 1247.89,463.24 1248.56,463.04 1249.23,462.83 1249.89,462.63 1250.56,462.43 1251.23,462.24 1251.89,462.04 1252.56,461.85 1253.23,461.66 1253.89,461.47 1254.56,461.29 1255.23,461.10 1255.89,460.92 1256.56,460.75 1257.22,460.57 1257.89,460.40 1258.56,460.23 1259.22,460.06 1259.89,459.90 1260.56,459.74 1261.22,459.58 1261.89,459.43 1262.56,459.27 1263.22,459.12 1263.89,458.98 1264.55,458.83 1265.22,458.69 1265.89,458.55 1266.55,458.41 1267.22,458.27 1267.89,458.14 1268.55,458.00 1269.22,457.87 1269.89,457.74 1270.55,457.61 1271.22,457.48 1271.89,457.35 1272.55,457.23 1273.22,457.10 1273.88,456.98 1274.55,456.86 1275.22,456.73 1275.88,456.61 1276.55,456.49 1277.22,456.37 1277.88,456.24 1278.55,456.12 1279.22,456.00 1279.88,455.87 1280.55,455.73 1281.22,455.60 1281.88,455.47 1282.55,455.35 1283.21,455.23 1283.88,455.13 1284.55,455.03 1285.21,454.95 1285.88,454.88 1286.55,454.82 1287.21,454.76 1287.88,454.71 1288.55,454.65 1289.21,454.60 1289.88,454.54 1290.55,454.49 1291.21,454.44 1291.88,454.39 1292.54,454.34 1293.21,454.30 1293.88,454.25 1294.54,454.21 1295.21,454.17 1295.88,454.13 1296.54,454.10 1297.21,454.07 1297.88,454.04 1298.54,454.01 1299.21,453.98 1299.88,453.96 1300.54,453.94 1301.21,453.93 1301.87,453.91 1302.54,453.90 1303.21,453.90 1303.87,453.90 1304.54,453.90 1305.21,453.91 1305.87,453.92 1306.54,453.94 1307.21,453.96 1307.87,453.99 1308.54,454.02 1309.21,454.06 1309.87,454.10 1310.54,454.15 1311.20,454.20 1311.87,454.25 1312.54,454.31 1313.20,454.37 1313.87,454.43 1314.54,454.49 1315.20,454.56 1315.87,454.62 1316.54,454.69 1317.20,454.77 1317.87,454.84 1318.53,454.91 1319.20,454.98 1319.87,455.06 1320.53,455.13 1321.20,455.21 1321.87,455.28 1322.53,455.36 1323.20,455.44 1323.87,455.53 1324.53,455.63 1325.20,455.73 1325.87,455.84 1326.53,455.96 1327.20,456.08 1327.86,456.20 1328.53,456.33 1329.20,456.46 1329.86,456.60 1330.53,456.74 1331.20,456.88 1331.86,457.02 1332.53,457.17 1333.20,457.32 1333.86,457.46 1334.53,457.61 1335.20,457.76 1335.86,457.91 1336.53,458.06 1337.19,458.20 1337.86,458.35 1338.53,458.49 1339.19,458.63 1339.86,458.77 1340.53,458.90 1341.19,459.04 1341.86,459.17 1342.53,459.31 1343.19,459.45 1343.86,459.59 1344.53,459.73 1345.19,459.87 1345.86,460.01 1346.52,460.15 1347.19,460.29 1347.86,460.44 1348.52,460.58 1349.19,460.72 1349.86,460.86 1350.52,461.00 1351.19,461.15 1351.86,461.29 1352.52,461.43 1353.19,461.57 1353.86,461.71 1354.52,461.85 1355.19,461.99 1355.85,462.12 1356.52,462.26 1357.19,462.39 1357.85,462.53 1358.52,462.66 1359.19,462.79 1359.85,462.92 1360.52,463.05 1361.19,463.18 1361.85,463.30 1362.52,463.43 1363.19,463.55 1363.85,463.68 1364.52,463.80 1365.18,463.92 1365.85,464.04 1366.52,464.16 1367.18,464.29 1367.85,464.40 1368.52,464.52 1369.18,464.64 1369.85,464.76 1370.52,464.88 1371.18,465.00 1371.85,465.11 1372.51,465.23 1373.18,465.35 1373.85,465.46 1374.51,465.58 1375.18,465.70 1375.85,465.81 1376.51,465.93 1377.18,466.04 1377.85,466.16 1378.51,466.27 1379.18,466.39 1379.85,466.50 1380.51,466.62 1381.18,466.73 1381.84,466.85 1382.51,466.96 1383.18,467.08 1383.84,467.19 1384.51,467.31 1385.18,467.42 1385.84,467.54 1386.51,467.65 1387.18,467.76 1387.84,467.88 1388.51,467.99 1389.18,468.10 1389.84,468.21 1390.51,468.33 1391.17,468.44 1391.84,468.55 1392.51,468.66 1393.17,468.77 1393.84,468.88 1394.51,468.99 1395.17,469.10 1395.84,469.21 1396.51,469.32 1397.17,469.43 1397.84,469.53 1398.51,469.64 1399.17,469.75 1399.84,469.85 1400.50,469.96 1401.17,470.06 1401.84,470.17 1402.50,470.27 1403.17,470.37 1403.84,470.48 1404.50,470.58 1405.17,470.68 1405.84,470.78 1406.50,470.88 1407.17,470.98 1407.84,471.08 1408.50,471.18 1409.17,471.28 1409.83,471.38 1410.50,471.48 1411.17,471.58 1411.83,471.68 1412.50,471.78 1413.17,471.88 1413.83,471.98 1414.50,472.07 1415.17,472.17 1415.83,472.27 1416.50,472.37 1417.16,472.47 1417.83,472.57 1418.50,472.66 1419.16,472.76 1419.83,472.86 1420.50,472.96 1421.16,473.06 1421.83,473.16 1422.50,473.26 1423.16,473.36 1423.83,473.47 1424.50,473.57 1425.16,473.67 1425.83,473.77 1426.49,473.88 1427.16,473.98 1427.83,474.08 1428.49,474.18 1429.16,474.29 1429.83,474.39 1430.49,474.49 1431.16,474.59 1431.83,474.69 1432.49,474.79 1433.16,474.89 1433.83,474.98 1434.49,475.08 1435.16,475.17 1435.82,475.27 1436.49,475.36 1437.16,475.45 1437.82,475.54 1438.49,475.63 1439.16,475.71 1439.82,475.80 1440.49,475.88 1441.16,475.96 1441.82,476.04 1442.49,476.13 1443.16,476.21 1443.82,476.29 1444.49,476.37 1445.15,476.45 1445.82,476.53 1446.49,476.61 1447.15,476.69 1447.82,476.77 1448.49,476.85 1449.15,476.92 1449.82,477.00 1450.49,477.07 1451.15,477.14 1451.82,477.22 1452.49,477.29 1453.15,477.36 1453.82,477.42 1454.48,477.49 1455.15,477.55 1455.82,477.62 1456.48,477.68 1457.15,477.73 1457.82,477.79 1458.48,477.85 1459.15,477.90 1459.82,477.95 1460.48,478.00 1461.15,478.05 1461.82,478.10 1462.48,478.15 1463.15,478.19 1463.81,478.24 1464.48,478.29 1465.15,478.34 1465.81,478.39 1466.48,478.44 1467.15,478.48 1467.81,478.53 1468.48,478.57 1469.15,478.62 1469.81,478.66 1470.48,478.70 1471.14,478.74 1471.81,478.78 1472.48,478.81 1473.14,478.85 1473.81,478.88 1474.48,478.91 1475.14,478.94 1475.81,478.97 1476.48,478.99 1477.14,479.01 1477.81,479.03 1478.48,479.05 1479.14,479.06 1479.81,479.08 1480.47,479.08 1481.14,479.09 1481.81,479.10 1482.47,479.11 1483.14,479.12 1483.81,479.12 1484.47,479.13 1485.14,479.14 1485.81,479.14 1486.47,479.15 1487.14,479.16 1487.81,479.16 1488.47,479.17 1489.14,479.17 1489.80,479.18 1490.47,479.18 1491.14,479.19 1491.80,479.19 1492.47,479.20 1493.14,479.20 1493.80,479.21 1494.47,479.21 1495.14,479.21 1495.80,479.21 1496.47,479.22 1497.14,479.22 1497.80,479.22 1498.47,479.22 1499.13,479.22 1499.80,479.22 1500.47,479.22 1501.13,479.21 1501.80,479.21 1502.47,479.20 1503.13,479.18 1503.80,479.17 1504.47,479.15 1505.13,479.13 1505.80,479.11 1506.47,479.08 1507.13,479.05 1507.80,479.02 1508.46,478.99 1509.13,478.96 1509.80,478.92 1510.46,478.89 1511.13,478.85 1511.80,478.81 1512.46,478.77 1513.13,478.72 1513.80,478.68 1514.46,478.64 1515.13,478.59 1515.79,478.54 1516.46,478.50 1517.13,478.45 1517.79,478.40 1518.46,478.35 1519.13,478.30 1519.79,478.25 1520.46,478.20 1521.13,478.15 1521.79,478.09 1522.46,478.02 1523.13,477.95 1523.79,477.88 1524.46,477.80 1525.12,477.72 1525.79,477.63 1526.46,477.54 1527.12,477.44 1527.79,477.34 1528.46,477.24 1529.12,477.14 1529.79,477.03 1530.46,476.92 1531.12,476.81 1531.79,476.70 1532.46,476.58 1533.12,476.47 1533.79,476.35 1534.45,476.23 1535.12,476.11 1535.79,475.99 1536.45,475.87 1537.12,475.75 1537.79,475.63 1538.45,475.51 1539.12,475.39 1539.79,475.27 1540.45,475.15 1541.12,475.03 1541.79,474.91 1542.45,474.78 1543.12,474.66 1543.78,474.53 1544.45,474.40 1545.12,474.26 1545.78,474.13 1546.45,473.99 1547.12,473.85 1547.78,473.71 1548.45,473.57 1549.12,473.43 1549.78,473.28 1550.45,473.14 1551.12,472.99 1551.78,472.84 1552.45,472.69 1553.11,472.54 1553.78,472.39 1554.45,472.23 1555.11,472.08 1555.78,471.92 1556.45,471.76 1557.11,471.60 1557.78,471.45 1558.45,471.29 1559.11,471.12 1559.78,470.96 1560.45,470.80 1561.11,470.63 1561.78,470.47 1562.44,470.30 1563.11,470.13 1563.78,469.95 1564.44,469.77 1565.11,469.60 1565.78,469.42 1566.44,469.24 1567.11,469.05 1567.78,468.87 1568.44,468.68 1569.11,468.49 1569.77,468.30 1570.44,468.11 1571.11,467.92 1571.77,467.73 1572.44,467.54 1573.11,467.34 1573.77,467.15 1574.44,466.96 1575.11,466.76 1575.77,466.56 1576.44,466.37 1577.11,466.17 1577.77,465.98 1578.44,465.78 1579.10,465.59 1579.77,465.39 1580.44,465.20 1581.10,465.00 1581.77,464.80 1582.44,464.60 1583.10,464.40 1583.77,464.20 1584.44,464.00 1585.10,463.80 1585.77,463.60 1586.44,463.40 1587.10,463.19 1587.77,462.99 1588.43,462.78 1589.10,462.57 1589.77,462.37 1590.43,462.16 1591.10,461.95 1591.77,461.74 1592.43,461.53 1593.10,461.32 1593.77,461.11" fill="none" stroke="#ff0000" stroke-width="2.40" stroke-linejoin="round" stroke-linecap="butt" />
<polyline points="964.00,467.49 990.68,467.49 1017.37,495.65 1044.06,500.88 1070.74,508.95 1097.42,525.36 1124.11,517.15 1150.80,450.94 1177.48,414.72 1204.16,410.76 1230.85,379.35 1257.54,357.99 1284.22,477.54 1310.90,495.65 1337.59,519.27 1364.28,512.77 1390.96,525.36 1417.64,506.26 1444.33,517.86 1471.02,512.63 1497.70,490.84 1524.39,455.89 1551.07,406.09 1577.76,469.33 1604.44,483.06" fill="none" stroke="#008000" stroke-width="2.40" stroke-linejoin="round" stroke-linecap="butt" />
</g>
<line x1="964.00" y1="531.50" x2="964.00" y2="521.50" class="tk"/>
<line x1="964.00" y1="345.60" x2="964.00" y2="355.60" class="tk"/>
<text x="964.00" y="552.20" font-size="18.40" text-anchor="middle" font-weight="normal">0</text>
<line x1="1070.74" y1="531.50" x2="1070.74" y2="521.50" class="tk"/>
<line x1="1070.74" y1="345.60" x2="1070.74" y2="355.60" class="tk"/>
<text x="1070.74" y="552.20" font-size="18.40" text-anchor="middle" font-weight="normal">20</text>
<line x1="1177.48" y1="531.50" x2="1177.48" y2="521.50" class="tk"/>
<line x1="1177.48" y1="345.60" x2="1177.48" y2="355.60" class="tk"/>
<text x="1177.48" y="552.20" font-size="18.40" text-anchor="middle" font-weight="normal">40</text>
<line x1="1284.22" y1="531.50" x2="1284.22" y2="521.50" class="tk"/>
<line x1="1284.22" y1="345.60" x2="1284.22" y2="355.60" class="tk"/>
<text x="1284.22" y="552.20" font-size="18.40" text-anchor="middle" font-weight="normal">60</text>
<line x1="1390.96" y1="531.50" x2="1390.96" y2="521.50" class="tk"/>
<line x1="1390.96" y1="345.60" x2="1390.96" y2="355.60" class="tk"/>
<text x="1390.96" y="552.20" font-size="18.40" text-anchor="middle" font-weight="normal">80</text>
<line x1="1497.70" y1="531.50" x2="1497.70" y2="521.50" class="tk"/>
<line x1="1497.70" y1="345.60" x2="1497.70" y2="355.60" class="tk"/>
<text x="1496.90" y="552.20" font-size="18.40" text-anchor="middle" font-weight="normal">100</text>
<line x1="1604.44" y1="531.50" x2="1604.44" y2="521.50" class="tk"/>
<line x1="1604.44" y1="345.60" x2="1604.44" y2="355.60" class="tk"/>
<text x="1603.64" y="552.20" font-size="18.40" text-anchor="middle" font-weight="normal">120</text>
<line x1="963.90" y1="531.50" x2="973.90" y2="531.50" class="tk"/>
<text x="956.40" y="535.80" font-size="18.40" text-anchor="end" font-weight="normal">0</text>
<line x1="963.90" y1="503.20" x2="973.90" y2="503.20" class="tk"/>
<text x="955.30" y="507.50" font-size="18.40" text-anchor="end" font-weight="normal">200</text>
<line x1="963.90" y1="474.91" x2="973.90" y2="474.91" class="tk"/>
<text x="955.30" y="479.21" font-size="18.40" text-anchor="end" font-weight="normal">400</text>
<line x1="963.90" y1="446.61" x2="973.90" y2="446.61" class="tk"/>
<text x="955.30" y="450.91" font-size="18.40" text-anchor="end" font-weight="normal">600</text>
<line x1="963.90" y1="418.32" x2="973.90" y2="418.32" class="tk"/>
<text x="955.30" y="422.62" font-size="18.40" text-anchor="end" font-weight="normal">800</text>
<line x1="963.90" y1="390.02" x2="973.90" y2="390.02" class="tk"/>
<text x="954.40" y="394.32" font-size="18.40" text-anchor="end" font-weight="normal">1000</text>
<line x1="963.90" y1="361.73" x2="973.90" y2="361.73" class="tk"/>
<text x="954.40" y="366.03" font-size="18.40" text-anchor="end" font-weight="normal">1200</text>
<line x1="1605.20" y1="531.50" x2="1595.20" y2="531.50" class="tk"/>
<text x="1615.50" y="535.80" font-size="18.40" text-anchor="start" font-weight="normal">0</text>
<line x1="1605.20" y1="504.94" x2="1595.20" y2="504.94" class="tk"/>
<text x="1613.50" y="509.24" font-size="18.40" text-anchor="start" font-weight="normal">1</text>
<line x1="1605.20" y1="478.39" x2="1595.20" y2="478.39" class="tk"/>
<text x="1615.50" y="482.69" font-size="18.40" text-anchor="start" font-weight="normal">2</text>
<line x1="1605.20" y1="451.83" x2="1595.20" y2="451.83" class="tk"/>
<text x="1615.50" y="456.13" font-size="18.40" text-anchor="start" font-weight="normal">3</text>
<line x1="1605.20" y1="425.27" x2="1595.20" y2="425.27" class="tk"/>
<text x="1615.50" y="429.57" font-size="18.40" text-anchor="start" font-weight="normal">4</text>
<line x1="1605.20" y1="398.71" x2="1595.20" y2="398.71" class="tk"/>
<text x="1615.50" y="403.01" font-size="18.40" text-anchor="start" font-weight="normal">5</text>
<line x1="1605.20" y1="372.16" x2="1595.20" y2="372.16" class="tk"/>
<text x="1615.50" y="376.46" font-size="18.40" text-anchor="start" font-weight="normal">6</text>
<line x1="1605.20" y1="345.60" x2="1595.20" y2="345.60" class="tk"/>
<text x="1615.50" y="349.90" font-size="18.40" text-anchor="start" font-weight="normal">7</text>
<rect x="963.90" y="345.60" width="641.30" height="185.90" fill="none" stroke="#000" stroke-width="2.40"/>
<circle cx="964.00" cy="467.49" r="2.9" fill="#008000" stroke="#000" stroke-width="0.9"/>
<circle cx="990.68" cy="467.49" r="2.9" fill="#008000" stroke="#000" stroke-width="0.9"/>
<circle cx="1017.37" cy="495.65" r="2.9" fill="#008000" stroke="#000" stroke-width="0.9"/>
<circle cx="1044.06" cy="500.88" r="2.9" fill="#008000" stroke="#000" stroke-width="0.9"/>
<circle cx="1070.74" cy="508.95" r="2.9" fill="#008000" stroke="#000" stroke-width="0.9"/>
<circle cx="1097.42" cy="525.36" r="2.9" fill="#008000" stroke="#000" stroke-width="0.9"/>
<circle cx="1124.11" cy="517.15" r="2.9" fill="#008000" stroke="#000" stroke-width="0.9"/>
<circle cx="1150.80" cy="450.94" r="2.9" fill="#008000" stroke="#000" stroke-width="0.9"/>
<circle cx="1177.48" cy="414.72" r="2.9" fill="#008000" stroke="#000" stroke-width="0.9"/>
<circle cx="1204.16" cy="410.76" r="2.9" fill="#008000" stroke="#000" stroke-width="0.9"/>
<circle cx="1230.85" cy="379.35" r="2.9" fill="#008000" stroke="#000" stroke-width="0.9"/>
<circle cx="1257.54" cy="357.99" r="2.9" fill="#008000" stroke="#000" stroke-width="0.9"/>
<circle cx="1284.22" cy="477.54" r="2.9" fill="#008000" stroke="#000" stroke-width="0.9"/>
<circle cx="1310.90" cy="495.65" r="2.9" fill="#008000" stroke="#000" stroke-width="0.9"/>
<circle cx="1337.59" cy="519.27" r="2.9" fill="#008000" stroke="#000" stroke-width="0.9"/>
<circle cx="1364.28" cy="512.77" r="2.9" fill="#008000" stroke="#000" stroke-width="0.9"/>
<circle cx="1390.96" cy="525.36" r="2.9" fill="#008000" stroke="#000" stroke-width="0.9"/>
<circle cx="1417.64" cy="506.26" r="2.9" fill="#008000" stroke="#000" stroke-width="0.9"/>
<circle cx="1444.33" cy="517.86" r="2.9" fill="#008000" stroke="#000" stroke-width="0.9"/>
<circle cx="1471.02" cy="512.63" r="2.9" fill="#008000" stroke="#000" stroke-width="0.9"/>
<circle cx="1497.70" cy="490.84" r="2.9" fill="#008000" stroke="#000" stroke-width="0.9"/>
<circle cx="1524.39" cy="455.89" r="2.9" fill="#008000" stroke="#000" stroke-width="0.9"/>
<circle cx="1551.07" cy="406.09" r="2.9" fill="#008000" stroke="#000" stroke-width="0.9"/>
<circle cx="1577.76" cy="469.33" r="2.9" fill="#008000" stroke="#000" stroke-width="0.9"/>
<circle cx="1604.44" cy="483.06" r="2.9" fill="#008000" stroke="#000" stroke-width="0.9"/>
<text x="1284.55" y="583.00" font-size="18.60" text-anchor="middle" font-weight="normal">time [min]</text>
<text x="877.50" y="438.95" font-size="18.60" text-anchor="middle" font-weight="normal" transform="rotate(-90 877.50 438.95)" style="stroke-width:0.05px">protein concentration</text>
<text x="898.80" y="437.35" font-size="18.60" text-anchor="middle" font-weight="normal" transform="rotate(-90 898.80 437.35)" style="stroke-width:0.05px">[molecules/cell]</text>
<text x="1645.50" y="438.55" font-size="18.60" text-anchor="middle" font-weight="normal" transform="rotate(-90 1645.50 438.55)" style="stroke-width:0.05px">Western blot ratio</text>
<text x="2.00" y="656.60" font-size="48.00" text-anchor="start" font-weight="normal">C</text>
<text x="484.15" y="633.70" font-size="23.10" text-anchor="middle" font-weight="bold">Modeled half-life</text>
<g>
<polyline points="162.50,829.07 316.18,829.07 321.51,814.50 450.11,814.50 454.91,829.07 620.86,829.07 626.20,814.50 754.26,814.50 759.60,829.07 793.22,829.07" fill="none" stroke="#0000ff" stroke-width="2.40" stroke-linejoin="round" stroke-linecap="butt" />
<line x1="162.50" y1="837.40" x2="162.50" y2="827.40" class="tk"/>
<line x1="162.50" y1="651.50" x2="162.50" y2="661.50" class="tk"/>
<text x="162.50" y="859.50" font-size="18.40" text-anchor="middle" font-weight="normal">0</text>
<line x1="269.22" y1="837.40" x2="269.22" y2="827.40" class="tk"/>
<line x1="269.22" y1="651.50" x2="269.22" y2="661.50" class="tk"/>
<text x="269.22" y="859.50" font-size="18.40" text-anchor="middle" font-weight="normal">20</text>
<line x1="375.94" y1="837.40" x2="375.94" y2="827.40" class="tk"/>
<line x1="375.94" y1="651.50" x2="375.94" y2="661.50" class="tk"/>
<text x="375.94" y="859.50" font-size="18.40" text-anchor="middle" font-weight="normal">40</text>
<line x1="482.66" y1="837.40" x2="482.66" y2="827.40" class="tk"/>
<line x1="482.66" y1="651.50" x2="482.66" y2="661.50" class="tk"/>
<text x="482.66" y="859.50" font-size="18.40" text-anchor="middle" font-weight="normal">60</text>
<line x1="589.38" y1="837.40" x2="589.38" y2="827.40" class="tk"/>
<line x1="589.38" y1="651.50" x2="589.38" y2="661.50" class="tk"/>
<text x="589.38" y="859.50" font-size="18.40" text-anchor="middle" font-weight="normal">80</text>
<line x1="696.10" y1="837.40" x2="696.10" y2="827.40" class="tk"/>
<line x1="696.10" y1="651.50" x2="696.10" y2="661.50" class="tk"/>
<text x="695.30" y="859.50" font-size="18.40" text-anchor="middle" font-weight="normal">100</text>
<line x1="802.82" y1="837.40" x2="802.82" y2="827.40" class="tk"/>
<line x1="802.82" y1="651.50" x2="802.82" y2="661.50" class="tk"/>
<text x="802.02" y="859.50" font-size="18.40" text-anchor="middle" font-weight="normal">120</text>
<line x1="162.50" y1="837.40" x2="172.50" y2="837.40" class="tk"/>
<line x1="804.00" y1="837.40" x2="794.00" y2="837.40" class="tk"/>
<text x="154.70" y="841.70" font-size="18.40" text-anchor="end" font-weight="normal">0</text>
<line x1="162.50" y1="800.22" x2="172.50" y2="800.22" class="tk"/>
<line x1="804.00" y1="800.22" x2="794.00" y2="800.22" class="tk"/>
<text x="154.70" y="804.52" font-size="18.40" text-anchor="end" font-weight="normal">5</text>
<line x1="162.50" y1="763.04" x2="172.50" y2="763.04" class="tk"/>
<line x1="804.00" y1="763.04" x2="794.00" y2="763.04" class="tk"/>
<text x="153.50" y="767.34" font-size="18.40" text-anchor="end" font-weight="normal">10</text>
<line x1="162.50" y1="725.86" x2="172.50" y2="725.86" class="tk"/>
<line x1="804.00" y1="725.86" x2="794.00" y2="725.86" class="tk"/>
<text x="153.50" y="730.16" font-size="18.40" text-anchor="end" font-weight="normal">15</text>
<line x1="162.50" y1="688.68" x2="172.50" y2="688.68" class="tk"/>
<line x1="804.00" y1="688.68" x2="794.00" y2="688.68" class="tk"/>
<text x="153.50" y="692.98" font-size="18.40" text-anchor="end" font-weight="normal">20</text>
<line x1="162.50" y1="651.50" x2="172.50" y2="651.50" class="tk"/>
<line x1="804.00" y1="651.50" x2="794.00" y2="651.50" class="tk"/>
<text x="153.50" y="655.80" font-size="18.40" text-anchor="end" font-weight="normal">25</text>
<rect x="162.50" y="651.50" width="641.50" height="185.90" fill="none" stroke="#000" stroke-width="2.40"/>
</g>
<text x="483.25" y="890.30" font-size="18.60" text-anchor="middle" font-weight="normal">time [min]</text>
<text x="118.10" y="744.45" font-size="18.60" text-anchor="middle" font-weight="normal" transform="rotate(-90 118.10 744.45)" style="stroke-width:0.05px">half-life [min]</text>
<defs><clipPath id="c2"><rect x="963.90" y="651.50" width="641.30" height="185.90"/></clipPath></defs>
<g clip-path="url(#c2)">
<polyline points="964.00,732.31 964.44,733.22 964.89,736.42 965.33,747.33 965.78,759.62 966.22,767.22 966.67,773.47 967.11,778.74 967.56,782.96 968.00,786.42 968.45,789.42 968.89,792.06 969.34,794.43 969.78,796.64 970.22,798.74 970.67,800.71 971.11,802.57 971.56,804.32 972.00,805.95 972.45,807.47 972.89,808.89 973.34,810.20 973.78,811.47 974.23,812.67 974.67,813.81 975.12,814.89 975.56,815.91 976.00,816.86 976.45,817.75 976.89,818.57 977.34,819.34 977.78,820.10 978.23,820.82 978.67,821.52 979.12,822.18 979.56,822.80 980.01,823.38 980.45,823.90 980.90,824.38 981.34,824.79 981.78,825.15 982.23,825.49 982.67,825.81 983.12,826.12 983.56,826.40 984.01,826.68 984.45,826.94 984.90,827.18 985.34,827.40 985.79,827.61 986.23,827.81 986.68,827.99 987.12,828.15 987.56,828.30 988.01,828.43 988.45,828.56 988.90,828.68 989.34,828.80 989.79,828.91 990.23,829.02 990.68,829.12 991.12,829.22 991.57,829.32 992.01,829.40 992.46,829.49 992.90,829.57 993.34,829.64 993.79,829.71 994.23,829.77 994.68,829.83 995.12,829.88 995.57,829.92 996.01,829.97 996.46,830.01 996.90,830.05 997.35,830.09 997.79,830.12 998.24,830.16 998.68,830.20 999.12,830.23 999.57,830.26 1000.01,830.29 1000.46,830.33 1000.90,830.35 1001.35,830.38 1001.79,830.41 1002.24,830.44 1002.68,830.46 1003.13,830.49 1003.57,830.51 1004.02,830.54 1004.46,830.56 1004.90,830.58 1005.35,830.60 1005.79,830.62 1006.24,830.64 1006.68,830.66 1007.13,830.68 1007.57,830.70 1008.02,830.71 1008.46,830.73 1008.91,830.75 1009.35,830.77 1009.80,830.78 1010.24,830.80 1010.68,830.81 1011.13,830.83 1011.57,830.84 1012.02,830.86 1012.46,830.87 1012.91,830.88 1013.35,830.90 1013.80,830.91 1014.24,830.92 1014.69,830.93 1015.13,830.94 1015.58,830.96 1016.02,830.97 1016.46,830.98 1016.91,830.99 1017.35,831.00 1017.80,831.01 1018.24,831.02 1018.69,831.03 1019.13,831.04 1019.58,831.05 1020.02,831.06 1020.47,831.07 1020.91,831.08 1021.36,831.09 1021.80,831.10 1022.24,831.11 1022.69,831.11 1023.13,831.12 1023.58,831.13 1024.02,831.14 1024.47,831.15 1024.91,831.16 1025.36,831.17 1025.80,831.18 1026.25,831.19 1026.69,831.20 1027.13,831.21 1027.58,831.22 1028.02,831.23 1028.47,831.23 1028.91,831.24 1029.36,831.25 1029.80,831.27 1030.25,831.28 1030.69,831.29 1031.14,831.30 1031.58,831.31 1032.03,831.32 1032.47,831.33 1032.91,831.34 1033.36,831.36 1033.80,831.37 1034.25,831.38 1034.69,831.39 1035.14,831.40 1035.58,831.42 1036.03,831.43 1036.47,831.44 1036.92,831.45 1037.36,831.47 1037.81,831.48 1038.25,831.49 1038.69,831.51 1039.14,831.52 1039.58,831.53 1040.03,831.55 1040.47,831.56 1040.92,831.57 1041.36,831.59 1041.81,831.60 1042.25,831.61 1042.70,831.63 1043.14,831.64 1043.59,831.65 1044.03,831.67 1044.47,831.68 1044.92,831.70 1045.36,831.71 1045.81,831.72 1046.25,831.74 1046.70,831.75 1047.14,831.76 1047.59,831.78 1048.03,831.79 1048.48,831.81 1048.92,831.82 1049.37,831.83 1049.81,831.85 1050.25,831.86 1050.70,831.88 1051.14,831.89 1051.59,831.90 1052.03,831.92 1052.48,831.93 1052.92,831.94 1053.37,831.96 1053.81,831.97 1054.26,831.99 1054.70,832.00 1055.15,832.01 1055.59,832.03 1056.03,832.04 1056.48,832.05 1056.92,832.07 1057.37,832.08 1057.81,832.09 1058.26,832.11 1058.70,832.12 1059.15,832.14 1059.59,832.15 1060.04,832.17 1060.48,832.18 1060.93,832.20 1061.37,832.21 1061.81,832.23 1062.26,832.25 1062.70,832.26 1063.15,832.28 1063.59,832.29 1064.04,832.31 1064.48,832.32 1064.93,832.34 1065.37,832.36 1065.82,832.37 1066.26,832.39 1066.71,832.40 1067.15,832.42 1067.59,832.43 1068.04,832.45 1068.48,832.46 1068.93,832.48 1069.37,832.49 1069.82,832.51 1070.26,832.52 1070.71,832.54 1071.15,832.55 1071.60,832.56 1072.04,832.58 1072.49,832.59 1072.93,832.60 1073.37,832.62 1073.82,832.63 1074.26,832.64 1074.71,832.65 1075.15,832.66 1075.60,832.68 1076.04,832.69 1076.49,832.70 1076.93,832.71 1077.38,832.71 1077.82,832.72 1078.27,832.73 1078.71,832.74 1079.15,832.75 1079.60,832.75 1080.04,832.76 1080.49,832.77 1080.93,832.77 1081.38,832.78 1081.82,832.78 1082.27,832.79 1082.71,832.80 1083.16,832.80 1083.60,832.81 1084.05,832.81 1084.49,832.82 1084.93,832.83 1085.38,832.83 1085.82,832.84 1086.27,832.84 1086.71,832.85 1087.16,832.85 1087.60,832.86 1088.05,832.86 1088.49,832.86 1088.94,832.87 1089.38,832.87 1089.83,832.88 1090.27,832.88 1090.71,832.88 1091.16,832.89 1091.60,832.89 1092.05,832.89 1092.49,832.89 1092.94,832.89 1093.38,832.90 1093.83,832.90 1094.27,832.90 1094.72,832.90 1095.16,832.90 1095.61,832.90 1096.05,832.89 1096.49,832.89 1096.94,832.89 1097.38,832.88 1097.83,832.88 1098.27,832.87 1098.72,832.86 1099.16,832.86 1099.61,832.85 1100.05,832.84 1100.50,832.83 1100.94,832.82 1101.39,832.81 1101.83,832.80 1102.27,832.79 1102.72,832.77 1103.16,832.76 1103.61,832.74 1104.05,832.71 1104.50,832.67 1104.94,832.62 1105.39,832.56 1105.83,832.50 1106.28,832.42 1106.72,832.34 1107.17,832.26 1107.61,832.17 1108.05,832.08 1108.50,831.98 1108.94,831.89 1109.39,831.80 1109.83,831.70 1110.28,831.62 1110.72,831.53 1111.17,831.45 1111.61,831.36 1112.06,831.28 1112.50,831.20 1112.95,831.11 1113.39,831.03 1113.83,830.94 1114.28,830.84 1114.72,830.74 1115.17,830.63 1115.61,830.52 1116.06,830.40 1116.50,830.26 1116.95,830.12 1117.39,829.97 1117.84,829.80 1118.28,829.63 1118.73,829.39 1119.17,829.09 1119.61,828.72 1120.06,828.30 1120.50,827.83 1120.95,827.33 1121.39,826.80 1121.84,826.25 1122.28,825.70 1122.73,825.15 1123.17,824.61 1123.62,824.10 1124.06,823.61 1124.51,823.15 1124.95,822.69 1125.39,822.23 1125.84,821.77 1126.28,821.32 1126.73,820.86 1127.17,820.40 1127.62,819.94 1128.06,819.48 1128.51,819.02 1128.95,818.56 1129.40,818.09 1129.84,817.62 1130.29,817.16 1130.73,816.69 1131.17,816.22 1131.62,815.75 1132.06,815.28 1132.51,814.82 1132.95,814.35 1133.40,813.88 1133.84,813.41 1134.29,812.94 1134.73,812.46 1135.18,811.99 1135.62,811.51 1136.07,811.04 1136.51,810.56 1136.95,810.08 1137.40,809.60 1137.84,809.11 1138.29,808.62 1138.73,808.13 1139.18,807.64 1139.62,807.14 1140.07,806.64 1140.51,806.14 1140.96,805.64 1141.40,805.13 1141.85,804.62 1142.29,804.11 1142.73,803.59 1143.18,803.08 1143.62,802.56 1144.07,802.04 1144.51,801.51 1144.96,800.99 1145.40,800.46 1145.85,799.93 1146.29,799.40 1146.74,798.87 1147.18,798.33 1147.62,797.79 1148.07,797.25 1148.51,796.71 1148.96,796.16 1149.40,795.62 1149.85,795.07 1150.29,794.52 1150.74,793.97 1151.18,793.41 1151.63,792.85 1152.07,792.29 1152.52,791.72 1152.96,791.15 1153.40,790.58 1153.85,790.01 1154.29,789.44 1154.74,788.86 1155.18,788.28 1155.63,787.70 1156.07,787.12 1156.52,786.54 1156.96,785.95 1157.41,785.36 1157.85,784.78 1158.30,784.19 1158.74,783.60 1159.18,783.01 1159.63,782.42 1160.07,781.83 1160.52,781.24 1160.96,780.65 1161.41,780.06 1161.85,779.46 1162.30,778.86 1162.74,778.25 1163.19,777.65 1163.63,777.04 1164.08,776.43 1164.52,775.82 1164.96,775.21 1165.41,774.60 1165.85,773.99 1166.30,773.38 1166.74,772.78 1167.19,772.17 1167.63,771.57 1168.08,770.96 1168.52,770.37 1168.97,769.77 1169.41,769.18 1169.86,768.59 1170.30,768.00 1170.74,767.42 1171.19,766.84 1171.63,766.26 1172.08,765.68 1172.52,765.11 1172.97,764.53 1173.41,763.96 1173.86,763.39 1174.30,762.82 1174.75,762.26 1175.19,761.69 1175.64,761.12 1176.08,760.56 1176.52,759.99 1176.97,759.42 1177.41,758.86 1177.86,758.29 1178.30,757.73 1178.75,757.16 1179.19,756.59 1179.64,756.02 1180.08,755.45 1180.53,754.88 1180.97,754.31 1181.42,753.74 1181.86,753.17 1182.30,752.60 1182.75,752.03 1183.19,751.46 1183.64,750.89 1184.08,750.32 1184.53,749.75 1184.97,749.18 1185.42,748.61 1185.86,748.04 1186.31,747.47 1186.75,746.90 1187.20,746.33 1187.64,745.76 1188.08,745.19 1188.53,744.62 1188.97,744.05 1189.42,743.47 1189.86,742.90 1190.31,742.33 1190.75,741.75 1191.20,741.18 1191.64,740.60 1192.09,740.03 1192.53,739.45 1192.98,738.87 1193.42,738.29 1193.86,737.71 1194.31,737.13 1194.75,736.55 1195.20,735.97 1195.64,735.39 1196.09,734.82 1196.53,734.24 1196.98,733.66 1197.42,733.08 1197.87,732.50 1198.31,731.93 1198.76,731.35 1199.20,730.78 1199.64,730.20 1200.09,729.63 1200.53,729.06 1200.98,728.49 1201.42,727.93 1201.87,727.36 1202.31,726.80 1202.76,726.24 1203.20,725.68 1203.65,725.12 1204.09,724.57 1204.54,724.01 1204.98,723.45 1205.42,722.90 1205.87,722.34 1206.31,721.78 1206.76,721.22 1207.20,720.66 1207.65,720.09 1208.09,719.53 1208.54,718.96 1208.98,718.39 1209.43,717.81 1209.87,717.24 1210.32,716.66 1210.76,716.07 1211.20,715.47 1211.65,714.87 1212.09,714.26 1212.54,713.64 1212.98,713.01 1213.43,712.39 1213.87,711.75 1214.32,711.12 1214.76,710.49 1215.21,709.85 1215.65,709.22 1216.10,708.59 1216.54,707.97 1216.98,707.35 1217.43,706.74 1217.87,706.13 1218.32,705.53 1218.76,704.95 1219.21,704.37 1219.65,703.81 1220.10,703.26 1220.54,702.72 1220.99,702.19 1221.43,701.65 1221.88,701.12 1222.32,700.60 1222.76,700.08 1223.21,699.56 1223.65,699.05 1224.10,698.54 1224.54,698.04 1224.99,697.55 1225.43,697.06 1225.88,696.57 1226.32,696.09 1226.77,695.62 1227.21,695.16 1227.66,694.70 1228.10,694.25 1228.54,693.81 1228.99,693.37 1229.43,692.95 1229.88,692.53 1230.32,692.12 1230.77,691.72 1231.21,691.32 1231.66,690.92 1232.10,690.53 1232.55,690.14 1232.99,689.76 1233.44,689.38 1233.88,689.01 1234.32,688.64 1234.77,688.27 1235.21,687.91 1235.66,687.56 1236.10,687.21 1236.55,686.87 1236.99,686.54 1237.44,686.22 1237.88,685.90 1238.33,685.58 1238.77,685.28 1239.22,684.99 1239.66,684.70 1240.10,684.42 1240.55,684.15 1240.99,683.89 1241.44,683.63 1241.88,683.38 1242.33,683.13 1242.77,682.89 1243.22,682.66 1243.66,682.43 1244.11,682.20 1244.55,681.98 1245.00,681.77 1245.44,681.56 1245.88,681.35 1246.33,681.15 1246.77,680.95 1247.22,680.76 1247.66,680.57 1248.11,680.39 1248.55,680.21 1249.00,680.03 1249.44,679.87 1249.89,679.71 1250.33,679.55 1250.78,679.40 1251.22,679.25 1251.66,679.11" fill="none" stroke="#ff0000" stroke-width="2.40" stroke-linejoin="round" stroke-linecap="butt" />
<polyline points="1251.66,679.11 1252.11,680.28 1252.55,682.94 1253.00,686.99 1253.44,694.55 1253.88,703.23 1254.33,710.16 1254.77,714.95 1255.21,719.32 1255.66,723.30 1256.10,726.90 1256.54,730.17 1256.99,733.13 1257.43,735.82 1257.87,738.28 1258.32,740.60 1258.76,742.79 1259.21,744.85 1259.65,746.79 1260.09,748.62 1260.54,750.34 1260.98,751.96 1261.42,753.49 1261.87,754.92 1262.31,756.28 1262.75,757.57 1263.20,758.81 1263.64,760.00 1264.08,761.15 1264.53,762.25 1264.97,763.32 1265.42,764.35 1265.86,765.34 1266.30,766.30 1266.75,767.22 1267.19,768.12 1267.63,768.99 1268.08,769.83 1268.52,770.65 1268.96,771.44 1269.41,772.22 1269.85,772.98 1270.30,773.72 1270.74,774.45 1271.18,775.15 1271.63,775.83 1272.07,776.50 1272.51,777.14 1272.96,777.76 1273.40,778.36 1273.84,778.94 1274.29,779.50 1274.73,780.04 1275.17,780.55 1275.62,781.05 1276.06,781.52 1276.51,781.98 1276.95,782.43 1277.39,782.86 1277.84,783.28 1278.28,783.69 1278.72,784.09 1279.17,784.47 1279.61,784.85 1280.05,785.22 1280.50,785.58 1280.94,785.94 1281.39,786.28 1281.83,786.63 1282.27,786.96 1282.72,787.30 1283.16,787.63 1283.60,787.96 1284.05,788.28 1284.49,788.59 1284.93,788.90 1285.38,789.21 1285.82,789.51 1286.26,789.80 1286.71,790.09 1287.15,790.38 1287.60,790.66 1288.04,790.94 1288.48,791.22 1288.93,791.49 1289.37,791.76 1289.81,792.03 1290.26,792.30 1290.70,792.56 1291.14,792.82 1291.59,793.08 1292.03,793.34 1292.48,793.59 1292.92,793.84 1293.36,794.09 1293.81,794.33 1294.25,794.57 1294.69,794.81 1295.14,795.05 1295.58,795.28 1296.02,795.51 1296.47,795.74 1296.91,795.97 1297.35,796.19 1297.80,796.42 1298.24,796.65 1298.69,796.87 1299.13,797.10 1299.57,797.33 1300.02,797.56 1300.46,797.78 1300.90,798.02 1301.35,798.25 1301.79,798.48 1302.23,798.72 1302.68,798.96 1303.12,799.21 1303.56,799.45 1304.01,799.70 1304.45,799.95 1304.90,800.21 1305.34,800.46 1305.78,800.72 1306.23,800.97 1306.67,801.23 1307.11,801.49 1307.56,801.75 1308.00,802.01 1308.44,802.27 1308.89,802.53 1309.33,802.78 1309.78,803.04 1310.22,803.30 1310.66,803.55 1311.11,803.80 1311.55,804.05 1311.99,804.30 1312.44,804.55 1312.88,804.79 1313.32,805.03 1313.77,805.27 1314.21,805.51 1314.65,805.75 1315.10,805.98 1315.54,806.22 1315.99,806.45 1316.43,806.69 1316.87,806.92 1317.32,807.16 1317.76,807.39 1318.20,807.62 1318.65,807.85 1319.09,808.07 1319.53,808.30 1319.98,808.52 1320.42,808.74 1320.87,808.96 1321.31,809.18 1321.75,809.39 1322.20,809.60 1322.64,809.81 1323.08,810.02 1323.53,810.22 1323.97,810.42 1324.41,810.62 1324.86,810.81 1325.30,811.01 1325.74,811.20 1326.19,811.39 1326.63,811.58 1327.08,811.77 1327.52,811.96 1327.96,812.15 1328.41,812.34 1328.85,812.52 1329.29,812.70 1329.74,812.88 1330.18,813.06 1330.62,813.23 1331.07,813.40 1331.51,813.57 1331.95,813.74 1332.40,813.90 1332.84,814.06 1333.29,814.22 1333.73,814.37 1334.17,814.52 1334.62,814.67 1335.06,814.81 1335.50,814.94 1335.95,815.08 1336.39,815.21 1336.83,815.35 1337.28,815.48 1337.72,815.60 1338.17,815.73 1338.61,815.86 1339.05,815.98 1339.50,816.10 1339.94,816.22 1340.38,816.34 1340.83,816.45 1341.27,816.56 1341.71,816.67 1342.16,816.78 1342.60,816.89 1343.04,816.99 1343.49,817.09 1343.93,817.18 1344.38,817.28 1344.82,817.37 1345.26,817.46 1345.71,817.54 1346.15,817.62 1346.59,817.70 1347.04,817.78 1347.48,817.86 1347.92,817.93 1348.37,818.00 1348.81,818.08 1349.26,818.15 1349.70,818.22 1350.14,818.29 1350.59,818.36 1351.03,818.42 1351.47,818.49 1351.92,818.55 1352.36,818.61 1352.80,818.67 1353.25,818.73 1353.69,818.78 1354.13,818.84 1354.58,818.89 1355.02,818.94 1355.47,818.99 1355.91,819.04 1356.35,819.08 1356.80,819.12 1357.24,819.17 1357.68,819.20 1358.13,819.24 1358.57,819.28 1359.01,819.31 1359.46,819.35 1359.90,819.38 1360.35,819.41 1360.79,819.45 1361.23,819.48 1361.68,819.51 1362.12,819.54 1362.56,819.56 1363.01,819.59 1363.45,819.62 1363.89,819.65 1364.34,819.67 1364.78,819.70 1365.22,819.72 1365.67,819.75 1366.11,819.77 1366.56,819.80 1367.00,819.82 1367.44,819.85 1367.89,819.87 1368.33,819.90 1368.77,819.92 1369.22,819.95 1369.66,819.97 1370.10,820.00 1370.55,820.02 1370.99,820.05 1371.43,820.07 1371.88,820.09 1372.32,820.12 1372.77,820.14 1373.21,820.16 1373.65,820.18 1374.10,820.21 1374.54,820.23 1374.98,820.25 1375.43,820.27 1375.87,820.29 1376.31,820.31 1376.76,820.34 1377.20,820.36 1377.65,820.38 1378.09,820.40 1378.53,820.42 1378.98,820.44 1379.42,820.46 1379.86,820.48 1380.31,820.49 1380.75,820.51 1381.19,820.53 1381.64,820.55 1382.08,820.57 1382.52,820.58 1382.97,820.60 1383.41,820.62 1383.86,820.63 1384.30,820.65 1384.74,820.67 1385.19,820.68 1385.63,820.70 1386.07,820.72 1386.52,820.73 1386.96,820.75 1387.40,820.77 1387.85,820.79 1388.29,820.80 1388.74,820.82 1389.18,820.84 1389.62,820.86 1390.07,820.88 1390.51,820.90 1390.95,820.92 1391.40,820.94 1391.84,820.96 1392.28,820.98 1392.73,821.00 1393.17,821.03 1393.61,821.05 1394.06,821.07 1394.50,821.09 1394.95,821.12 1395.39,821.14 1395.83,821.16 1396.28,821.19 1396.72,821.21 1397.16,821.23 1397.61,821.25 1398.05,821.28 1398.49,821.30 1398.94,821.32 1399.38,821.35 1399.82,821.37 1400.27,821.39 1400.71,821.42 1401.16,821.44 1401.60,821.46 1402.04,821.49 1402.49,821.51 1402.93,821.54 1403.37,821.56 1403.82,821.59 1404.26,821.62 1404.70,821.64 1405.15,821.67 1405.59,821.69 1406.04,821.72 1406.48,821.75 1406.92,821.77 1407.37,821.80 1407.81,821.82 1408.25,821.84 1408.70,821.87 1409.14,821.89 1409.58,821.91 1410.03,821.93 1410.47,821.95 1410.91,821.97 1411.36,821.99 1411.80,822.00 1412.25,822.02 1412.69,822.04 1413.13,822.05 1413.58,822.07 1414.02,822.08 1414.46,822.10 1414.91,822.11 1415.35,822.12 1415.79,822.14 1416.24,822.15 1416.68,822.16 1417.13,822.18 1417.57,822.19 1418.01,822.20 1418.46,822.21 1418.90,822.22 1419.34,822.23 1419.79,822.24 1420.23,822.25 1420.67,822.26 1421.12,822.27 1421.56,822.27 1422.00,822.28 1422.45,822.29" fill="none" stroke="#ff0000" stroke-width="2.40" stroke-linejoin="round" stroke-linecap="butt" />
<polyline points="1422.45,822.29 1422.89,821.93 1423.34,821.56 1423.78,821.17 1424.23,820.76 1424.67,820.33 1425.11,819.88 1425.56,819.40 1426.00,818.87 1426.45,818.31 1426.89,817.73 1427.33,817.14 1427.78,816.55 1428.22,815.98 1428.67,815.43 1429.11,814.93 1429.56,814.48 1430.00,814.05 1430.44,813.63 1430.89,813.23 1431.33,812.84 1431.78,812.46 1432.22,812.09 1432.67,811.73 1433.11,811.38 1433.55,811.03 1434.00,810.69 1434.44,810.36 1434.89,810.03 1435.33,809.71 1435.77,809.38 1436.22,809.06 1436.66,808.74 1437.11,808.43 1437.55,808.11 1438.00,807.79 1438.44,807.48 1438.88,807.17 1439.33,806.87 1439.77,806.57 1440.22,806.28 1440.66,805.99 1441.11,805.71 1441.55,805.43 1441.99,805.17 1442.44,804.91 1442.88,804.66 1443.33,804.42 1443.77,804.19 1444.21,803.97 1444.66,803.76 1445.10,803.55 1445.55,803.35 1445.99,803.15 1446.44,802.96 1446.88,802.77 1447.32,802.59 1447.77,802.41 1448.21,802.23 1448.66,802.06 1449.10,801.89 1449.55,801.72 1449.99,801.55 1450.43,801.39 1450.88,801.23 1451.32,801.07 1451.77,800.90 1452.21,800.74 1452.66,800.58 1453.10,800.42 1453.54,800.26 1453.99,800.09 1454.43,799.93 1454.88,799.76 1455.32,799.59 1455.76,799.42 1456.21,799.24 1456.65,799.07 1457.10,798.89 1457.54,798.70 1457.99,798.52 1458.43,798.34 1458.87,798.16 1459.32,797.98 1459.76,797.80 1460.21,797.62 1460.65,797.44 1461.10,797.26 1461.54,797.08 1461.98,796.90 1462.43,796.71 1462.87,796.53 1463.32,796.35 1463.76,796.17 1464.20,795.98 1464.65,795.80 1465.09,795.61 1465.54,795.43 1465.98,795.24 1466.43,795.06 1466.87,794.87 1467.31,794.69 1467.76,794.50 1468.20,794.31 1468.65,794.12 1469.09,793.93 1469.54,793.74 1469.98,793.55 1470.42,793.36 1470.87,793.17 1471.31,792.98 1471.76,792.79 1472.20,792.60 1472.64,792.40 1473.09,792.21 1473.53,792.02 1473.98,791.83 1474.42,791.63 1474.87,791.44 1475.31,791.24 1475.75,791.05 1476.20,790.85 1476.64,790.65 1477.09,790.46 1477.53,790.26 1477.98,790.06 1478.42,789.86 1478.86,789.66 1479.31,789.46 1479.75,789.26 1480.20,789.06 1480.64,788.85 1481.08,788.65 1481.53,788.45 1481.97,788.24 1482.42,788.03 1482.86,787.83 1483.31,787.62 1483.75,787.41 1484.19,787.20 1484.64,786.99 1485.08,786.77 1485.53,786.56 1485.97,786.34 1486.42,786.13 1486.86,785.91 1487.30,785.69 1487.75,785.47 1488.19,785.25 1488.64,785.03 1489.08,784.81 1489.52,784.59 1489.97,784.37 1490.41,784.15 1490.86,783.92 1491.30,783.70 1491.75,783.47 1492.19,783.25 1492.63,783.02 1493.08,782.80 1493.52,782.57 1493.97,782.34 1494.41,782.11 1494.86,781.89 1495.30,781.66 1495.74,781.43 1496.19,781.20 1496.63,780.98 1497.08,780.75 1497.52,780.52 1497.97,780.30 1498.41,780.08 1498.85,779.85 1499.30,779.63 1499.74,779.41 1500.19,779.19 1500.63,778.97 1501.07,778.75 1501.52,778.53 1501.96,778.31 1502.41,778.09 1502.85,777.86 1503.30,777.64 1503.74,777.41 1504.18,777.18 1504.63,776.95 1505.07,776.72 1505.52,776.48 1505.96,776.24 1506.41,776.00 1506.85,775.75 1507.29,775.50 1507.74,775.25 1508.18,774.99 1508.63,774.73 1509.07,774.46 1509.51,774.19 1509.96,773.91 1510.40,773.63 1510.85,773.34 1511.29,773.04 1511.74,772.73 1512.18,772.42 1512.62,772.10 1513.07,771.78 1513.51,771.45 1513.96,771.12 1514.40,770.78 1514.85,770.44 1515.29,770.09 1515.73,769.74 1516.18,769.39 1516.62,769.03 1517.07,768.67 1517.51,768.31 1517.95,767.95 1518.40,767.59 1518.84,767.22 1519.29,766.86 1519.73,766.49 1520.18,766.12 1520.62,765.75 1521.06,765.38 1521.51,765.01 1521.95,764.63 1522.40,764.24 1522.84,763.86 1523.29,763.47 1523.73,763.07 1524.17,762.68 1524.62,762.28 1525.06,761.88 1525.51,761.48 1525.95,761.07 1526.39,760.67 1526.84,760.26 1527.28,759.85 1527.73,759.43 1528.17,759.02 1528.62,758.60 1529.06,758.18 1529.50,757.77 1529.95,757.35 1530.39,756.93 1530.84,756.50 1531.28,756.08 1531.73,755.65 1532.17,755.22 1532.61,754.78 1533.06,754.35 1533.50,753.91 1533.95,753.47 1534.39,753.03 1534.84,752.59 1535.28,752.14 1535.72,751.69 1536.17,751.24 1536.61,750.79 1537.06,750.34 1537.50,749.89 1537.94,749.43 1538.39,748.97 1538.83,748.51 1539.28,748.05 1539.72,747.59 1540.17,747.12 1540.61,746.66 1541.05,746.20 1541.50,745.74 1541.94,745.27 1542.39,744.81 1542.83,744.35 1543.28,743.88 1543.72,743.42 1544.16,742.95 1544.61,742.48 1545.05,742.00 1545.50,741.53 1545.94,741.05 1546.38,740.56 1546.83,740.07 1547.27,739.57 1547.72,739.07 1548.16,738.57 1548.61,738.05 1549.05,737.53 1549.49,737.00 1549.94,736.47 1550.38,735.92 1550.83,735.37 1551.27,734.80 1551.72,734.22 1552.16,733.63 1552.60,733.03 1553.05,732.42 1553.49,731.81 1553.94,731.18 1554.38,730.55 1554.82,729.92 1555.27,729.28 1555.71,728.63" fill="none" stroke="#ff0000" stroke-width="2.40" stroke-linejoin="round" stroke-linecap="butt" />
<polyline points="1555.71,728.63 1556.16,729.42 1556.60,730.75 1557.04,732.46 1557.48,734.63 1557.93,737.96 1558.37,741.87 1558.81,745.68 1559.25,748.71 1559.70,751.23 1560.14,753.61 1560.58,755.82 1561.02,757.86 1561.47,759.73 1561.91,761.40 1562.35,762.88 1562.79,764.26 1563.24,765.55 1563.68,766.75 1564.12,767.88 1564.56,768.94 1565.01,769.92 1565.45,770.84 1565.89,771.69 1566.33,772.48 1566.78,773.25 1567.22,774.00 1567.66,774.72 1568.10,775.42 1568.54,776.09 1568.99,776.73 1569.43,777.33 1569.87,777.90 1570.31,778.44 1570.76,778.94 1571.20,779.39 1571.64,779.81 1572.08,780.18 1572.53,780.51 1572.97,780.82 1573.41,781.12 1573.85,781.40 1574.30,781.68 1574.74,781.94 1575.18,782.18 1575.62,782.42 1576.07,782.64 1576.51,782.86 1576.95,783.06 1577.39,783.26 1577.84,783.45 1578.28,783.63 1578.72,783.80 1579.16,783.97 1579.61,784.13 1580.05,784.28 1580.49,784.43 1580.93,784.57 1581.38,784.71 1581.82,784.85 1582.26,784.97 1582.70,785.10 1583.15,785.22 1583.59,785.34 1584.03,785.45 1584.47,785.56 1584.92,785.67 1585.36,785.77 1585.80,785.87 1586.24,785.97 1586.69,786.07 1587.13,786.16 1587.57,786.26 1588.01,786.35 1588.46,786.45 1588.90,786.54 1589.34,786.63 1589.78,786.72 1590.23,786.82 1590.67,786.91 1591.11,787.00 1591.55,787.08 1592.00,787.17 1592.44,787.25 1592.88,787.33 1593.32,787.41 1593.77,787.48" fill="none" stroke="#ff0000" stroke-width="2.40" stroke-linejoin="round" stroke-linecap="butt" />
<polyline points="964.00,772.97 990.68,773.25 1017.37,801.55 1044.06,806.78 1070.74,814.85 1097.42,831.54 1124.11,823.05 1150.80,756.84 1177.48,720.06 1204.16,716.66 1230.85,685.25 1257.54,663.89 1284.22,783.44 1310.90,801.55 1337.59,826.73 1364.28,818.24 1390.96,831.68 1417.64,813.43 1444.33,823.19 1471.02,818.10 1497.70,796.74 1524.39,761.79 1551.07,711.99 1577.76,775.23 1604.44,787.97" fill="none" stroke="#008000" stroke-width="2.40" stroke-linejoin="round" stroke-linecap="butt" />
</g>
<line x1="964.00" y1="837.40" x2="964.00" y2="827.40" class="tk"/>
<line x1="964.00" y1="651.50" x2="964.00" y2="661.50" class="tk"/>
<text x="964.00" y="859.50" font-size="18.40" text-anchor="middle" font-weight="normal">0</text>
<line x1="1070.74" y1="837.40" x2="1070.74" y2="827.40" class="tk"/>
<line x1="1070.74" y1="651.50" x2="1070.74" y2="661.50" class="tk"/>
<text x="1070.74" y="859.50" font-size="18.40" text-anchor="middle" font-weight="normal">20</text>
<line x1="1177.48" y1="837.40" x2="1177.48" y2="827.40" class="tk"/>
<line x1="1177.48" y1="651.50" x2="1177.48" y2="661.50" class="tk"/>
<text x="1177.48" y="859.50" font-size="18.40" text-anchor="middle" font-weight="normal">40</text>
<line x1="1284.22" y1="837.40" x2="1284.22" y2="827.40" class="tk"/>
<line x1="1284.22" y1="651.50" x2="1284.22" y2="661.50" class="tk"/>
<text x="1284.22" y="859.50" font-size="18.40" text-anchor="middle" font-weight="normal">60</text>
<line x1="1390.96" y1="837.40" x2="1390.96" y2="827.40" class="tk"/>
<line x1="1390.96" y1="651.50" x2="1390.96" y2="661.50" class="tk"/>
<text x="1390.96" y="859.50" font-size="18.40" text-anchor="middle" font-weight="normal">80</text>
<line x1="1497.70" y1="837.40" x2="1497.70" y2="827.40" class="tk"/>
<line x1="1497.70" y1="651.50" x2="1497.70" y2="661.50" class="tk"/>
<text x="1496.90" y="859.50" font-size="18.40" text-anchor="middle" font-weight="normal">100</text>
<line x1="1604.44" y1="837.40" x2="1604.44" y2="827.40" class="tk"/>
<line x1="1604.44" y1="651.50" x2="1604.44" y2="661.50" class="tk"/>
<text x="1603.64" y="859.50" font-size="18.40" text-anchor="middle" font-weight="normal">120</text>
<line x1="963.90" y1="837.40" x2="973.90" y2="837.40" class="tk"/>
<text x="956.40" y="841.70" font-size="18.40" text-anchor="end" font-weight="normal">0</text>
<line x1="963.90" y1="809.10" x2="973.90" y2="809.10" class="tk"/>
<text x="955.30" y="813.40" font-size="18.40" text-anchor="end" font-weight="normal">200</text>
<line x1="963.90" y1="780.81" x2="973.90" y2="780.81" class="tk"/>
<text x="955.30" y="785.11" font-size="18.40" text-anchor="end" font-weight="normal">400</text>
<line x1="963.90" y1="752.51" x2="973.90" y2="752.51" class="tk"/>
<text x="955.30" y="756.81" font-size="18.40" text-anchor="end" font-weight="normal">600</text>
<line x1="963.90" y1="724.22" x2="973.90" y2="724.22" class="tk"/>
<text x="955.30" y="728.52" font-size="18.40" text-anchor="end" font-weight="normal">800</text>
<line x1="963.90" y1="695.92" x2="973.90" y2="695.92" class="tk"/>
<text x="954.40" y="700.22" font-size="18.40" text-anchor="end" font-weight="normal">1000</text>
<line x1="963.90" y1="667.63" x2="973.90" y2="667.63" class="tk"/>
<text x="954.40" y="671.93" font-size="18.40" text-anchor="end" font-weight="normal">1200</text>
<line x1="1605.20" y1="837.40" x2="1595.20" y2="837.40" class="tk"/>
<text x="1615.50" y="841.70" font-size="18.40" text-anchor="start" font-weight="normal">0</text>
<line x1="1605.20" y1="810.84" x2="1595.20" y2="810.84" class="tk"/>
<text x="1613.50" y="815.14" font-size="18.40" text-anchor="start" font-weight="normal">1</text>
<line x1="1605.20" y1="784.29" x2="1595.20" y2="784.29" class="tk"/>
<text x="1615.50" y="788.59" font-size="18.40" text-anchor="start" font-weight="normal">2</text>
<line x1="1605.20" y1="757.73" x2="1595.20" y2="757.73" class="tk"/>
<text x="1615.50" y="762.03" font-size="18.40" text-anchor="start" font-weight="normal">3</text>
<line x1="1605.20" y1="731.17" x2="1595.20" y2="731.17" class="tk"/>
<text x="1615.50" y="735.47" font-size="18.40" text-anchor="start" font-weight="normal">4</text>
<line x1="1605.20" y1="704.61" x2="1595.20" y2="704.61" class="tk"/>
<text x="1615.50" y="708.91" font-size="18.40" text-anchor="start" font-weight="normal">5</text>
<line x1="1605.20" y1="678.06" x2="1595.20" y2="678.06" class="tk"/>
<text x="1615.50" y="682.36" font-size="18.40" text-anchor="start" font-weight="normal">6</text>
<line x1="1605.20" y1="651.50" x2="1595.20" y2="651.50" class="tk"/>
<text x="1615.50" y="655.80" font-size="18.40" text-anchor="start" font-weight="normal">7</text>
<rect x="963.90" y="651.50" width="641.30" height="185.90" fill="none" stroke="#000" stroke-width="2.40"/>
<circle cx="964.00" cy="772.97" r="2.9" fill="#008000" stroke="#000" stroke-width="0.9"/>
<circle cx="990.68" cy="773.25" r="2.9" fill="#008000" stroke="#000" stroke-width="0.9"/>
<circle cx="1017.37" cy="801.55" r="2.9" fill="#008000" stroke="#000" stroke-width="0.9"/>
<circle cx="1044.06" cy="806.78" r="2.9" fill="#008000" stroke="#000" stroke-width="0.9"/>
<circle cx="1070.74" cy="814.85" r="2.9" fill="#008000" stroke="#000" stroke-width="0.9"/>
<circle cx="1097.42" cy="831.54" r="2.9" fill="#008000" stroke="#000" stroke-width="0.9"/>
<circle cx="1124.11" cy="823.05" r="2.9" fill="#008000" stroke="#000" stroke-width="0.9"/>
<circle cx="1150.80" cy="756.84" r="2.9" fill="#008000" stroke="#000" stroke-width="0.9"/>
<circle cx="1177.48" cy="720.06" r="2.9" fill="#008000" stroke="#000" stroke-width="0.9"/>
<circle cx="1204.16" cy="716.66" r="2.9" fill="#008000" stroke="#000" stroke-width="0.9"/>
<circle cx="1230.85" cy="685.25" r="2.9" fill="#008000" stroke="#000" stroke-width="0.9"/>
<circle cx="1257.54" cy="663.89" r="2.9" fill="#008000" stroke="#000" stroke-width="0.9"/>
<circle cx="1284.22" cy="783.44" r="2.9" fill="#008000" stroke="#000" stroke-width="0.9"/>
<circle cx="1310.90" cy="801.55" r="2.9" fill="#008000" stroke="#000" stroke-width="0.9"/>
<circle cx="1337.59" cy="826.73" r="2.9" fill="#008000" stroke="#000" stroke-width="0.9"/>
<circle cx="1364.28" cy="818.24" r="2.9" fill="#008000" stroke="#000" stroke-width="0.9"/>
<circle cx="1390.96" cy="831.68" r="2.9" fill="#008000" stroke="#000" stroke-width="0.9"/>
<circle cx="1417.64" cy="813.43" r="2.9" fill="#008000" stroke="#000" stroke-width="0.9"/>
<circle cx="1444.33" cy="823.19" r="2.9" fill="#008000" stroke="#000" stroke-width="0.9"/>
<circle cx="1471.02" cy="818.10" r="2.9" fill="#008000" stroke="#000" stroke-width="0.9"/>
<circle cx="1497.70" cy="796.74" r="2.9" fill="#008000" stroke="#000" stroke-width="0.9"/>
<circle cx="1524.39" cy="761.79" r="2.9" fill="#008000" stroke="#000" stroke-width="0.9"/>
<circle cx="1551.07" cy="711.99" r="2.9" fill="#008000" stroke="#000" stroke-width="0.9"/>
<circle cx="1577.76" cy="775.23" r="2.9" fill="#008000" stroke="#000" stroke-width="0.9"/>
<circle cx="1604.44" cy="787.97" r="2.9" fill="#008000" stroke="#000" stroke-width="0.9"/>
<text x="1284.55" y="890.30" font-size="18.60" text-anchor="middle" font-weight="normal">time [min]</text>
<text x="877.50" y="744.85" font-size="18.60" text-anchor="middle" font-weight="normal" transform="rotate(-90 877.50 744.85)" style="stroke-width:0.05px">protein concentration</text>
<text x="898.80" y="743.25" font-size="18.60" text-anchor="middle" font-weight="normal" transform="rotate(-90 898.80 743.25)" style="stroke-width:0.05px">[molecules/cell]</text>
<text x="1645.50" y="744.45" font-size="18.60" text-anchor="middle" font-weight="normal" transform="rotate(-90 1645.50 744.45)" style="stroke-width:0.05px">Western blot ratio</text>
</g>
</svg></body></html>
